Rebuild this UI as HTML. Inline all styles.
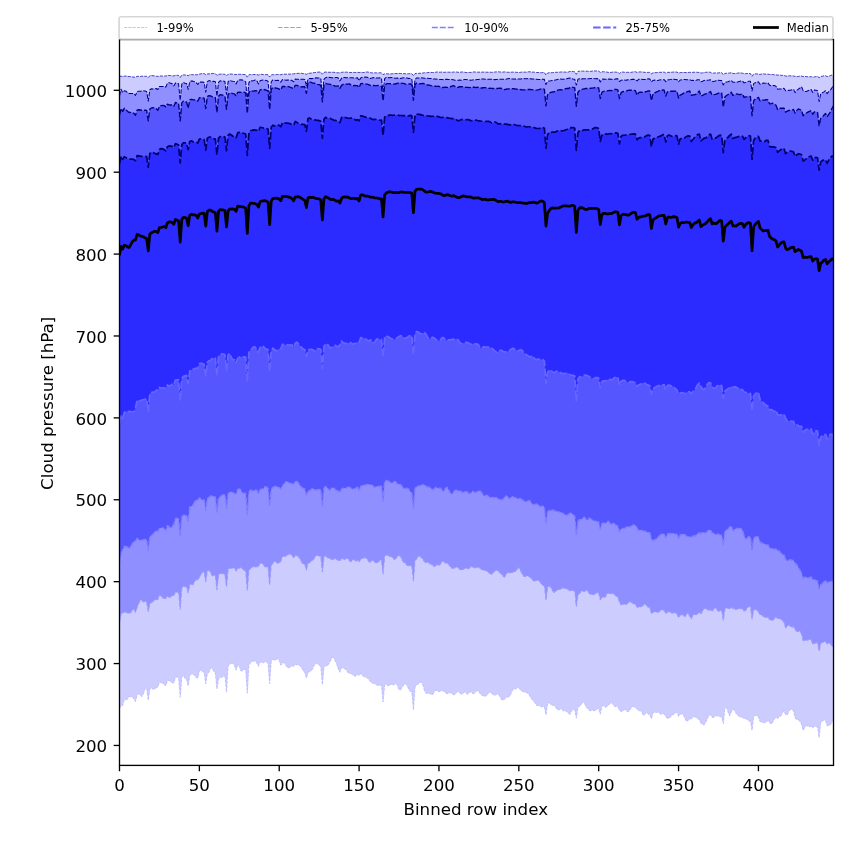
<!DOCTYPE html>
<html lang="en"><head><meta charset="utf-8"><title>Cloud pressure percentiles</title>
<style>html,body{margin:0;padding:0;background:#fff}svg{display:block;will-change:transform}text{font-family:'DejaVu Sans','Liberation Sans',sans-serif;fill:#000}</style></head><body>
<svg width="850" height="850" viewBox="0 0 850 850">
<rect width="850" height="850" fill="#fff"/>
<defs><clipPath id="ax"><rect x="119.5" y="39.5" width="714" height="725.9"/></clipPath></defs>
<g clip-path="url(#ax)">
<polygon points="119.5,76.72 121.1,76.05 122.69,76.59 124.29,76.08 125.89,76.06 127.49,76.36 129.08,76.59 130.68,76.67 132.28,76.82 133.88,77.1 135.47,77.27 137.07,76.37 138.67,76.37 140.27,76.48 141.86,76.25 143.46,76.21 145.06,76.26 146.65,76.32 148.25,77.56 149.85,75.7 151.45,75.57 153.04,75.73 154.64,75.9 156.24,76.17 157.84,76.43 159.43,75.99 161.03,76.04 162.63,75.98 164.22,75.96 165.82,76.07 167.42,75.48 169.02,75.43 170.61,75.63 172.21,75.82 173.81,75.98 175.41,75.41 177,75.29 178.6,75.36 180.2,77.49 181.8,75.13 183.39,74.91 184.99,74.95 186.59,75.03 188.18,75.75 189.78,74.67 191.38,74.59 192.98,74.73 194.57,74.86 196.17,74.75 197.77,74.62 199.37,74.12 200.96,73.85 202.56,73.51 204.16,73.58 205.76,74.81 207.35,73.99 208.95,73.86 210.55,73.66 212.14,73.59 213.74,73.52 215.34,73.6 216.94,75.42 218.53,74.35 220.13,74.16 221.73,74.06 223.33,74.19 224.92,74.26 226.52,75.89 228.12,74.18 229.71,74.01 231.31,74.06 232.91,74.32 234.51,74.4 236.1,74.63 237.7,74.24 239.3,74.31 240.9,74.31 242.49,74.37 244.09,74.5 245.69,74.58 247.29,77.1 248.88,74.79 250.48,74.53 252.08,74.71 253.67,74.56 255.27,74.44 256.87,74.61 258.47,75.04 260.06,74.51 261.66,74.35 263.26,74.57 264.86,74.73 266.45,74.58 268.05,74.65 269.65,76.93 271.24,74.9 272.84,74.67 274.44,74.83 276.04,74.64 277.63,74.49 279.23,74.58 280.83,74.74 282.43,74.22 284.02,74.14 285.62,74.2 287.22,74.15 288.82,74.11 290.41,74.09 292.01,73.88 293.61,73.89 295.2,73.5 296.8,73.45 298.4,73.36 300,73.28 301.59,73.33 303.19,73.62 304.79,73.64 306.39,74.42 307.98,73.35 309.58,73.27 311.18,73.12 312.78,72.83 314.37,72.55 315.97,72.42 317.57,72.2 319.16,72.07 320.76,72.18 322.36,74.17 323.96,72.32 325.55,72.11 327.15,72.07 328.75,72.27 330.35,72.3 331.94,72.29 333.54,72.31 335.14,72.43 336.73,72.75 338.33,72.8 339.93,72.92 341.53,72.34 343.12,72.17 344.72,72.2 346.32,72.17 347.92,72.23 349.51,72.4 351.11,72.51 352.71,72.43 354.31,72.42 355.9,72.48 357.5,72.31 359.1,72.5 360.69,72.32 362.29,72.55 363.89,72.47 365.49,72.17 367.08,72 368.68,72.2 370.28,72.59 371.88,72.9 373.47,72.96 375.07,72.79 376.67,72.91 378.27,72.89 379.86,72.78 381.46,72.91 383.06,74.58 384.65,73.93 386.25,73.75 387.85,73.91 389.45,73.95 391.04,73.89 392.64,73.75 394.24,73.58 395.84,73.55 397.43,73.51 399.03,73.35 400.63,73.52 402.22,73.67 403.82,73.59 405.42,73.78 407.02,73.9 408.61,73.73 410.21,73.68 411.81,73.72 413.41,75.68 415,73.59 416.6,73.39 418.2,73.41 419.8,73.26 421.39,73.23 422.99,72.97 424.59,72.79 426.18,72.85 427.78,72.6 429.38,72.38 430.98,72.4 432.57,72.53 434.17,72.58 435.77,72.22 437.37,71.93 438.96,72.21 440.56,72.19 442.16,72.03 443.76,72.31 445.35,72.28 446.95,72.13 448.55,72.2 450.14,72.21 451.74,72.23 453.34,72.13 454.94,71.95 456.53,72.03 458.13,72.29 459.73,72.26 461.33,72.06 462.92,71.99 464.52,72.22 466.12,72.57 467.71,72.51 469.31,72.43 470.91,72.46 472.51,72.16 474.1,71.94 475.7,72.07 477.3,72.2 478.9,72.18 480.49,72.17 482.09,72.19 483.69,72.07 485.29,72.07 486.88,72.24 488.48,72.22 490.08,72.2 491.67,72.33 493.27,72.25 494.87,72 496.47,71.88 498.06,71.81 499.66,71.92 501.26,72.13 502.86,72.08 504.45,71.9 506.05,72.02 507.65,72.29 509.24,72.28 510.84,72.22 512.44,72.15 514.04,72.09 515.63,72.22 517.23,72.4 518.83,72.51 520.43,72.33 522.02,72.04 523.62,72.08 525.22,72.18 526.82,72.09 528.41,71.84 530.01,71.8 531.61,72.08 533.2,72.16 534.8,72.2 536.4,72.5 538,72.53 539.59,72.59 541.19,72.75 542.79,72.53 544.39,72.58 545.98,75 547.58,73.03 549.18,72.78 550.78,72.76 552.37,72.66 553.97,72.46 555.57,72.32 557.16,72.25 558.76,72.26 560.36,72.05 561.96,71.96 563.55,72.04 565.15,72.08 566.75,72.25 568.35,72.01 569.94,71.49 571.54,71.42 573.14,71.63 574.73,71.72 576.33,74.33 577.93,71.44 579.53,71.17 581.12,71.15 582.72,71.13 584.32,71.2 585.92,71.14 587.51,71.22 589.11,71.49 590.71,71.35 592.31,70.99 593.9,70.92 595.5,70.99 597.1,70.92 598.69,71.02 600.29,72.52 601.89,71.87 603.49,71.71 605.08,71.9 606.68,72.05 608.28,72.35 609.88,72.55 611.47,72.33 613.07,72.02 614.67,72.03 616.27,72.22 617.86,72.28 619.46,73.52 621.06,72.16 622.65,72.03 624.25,72.26 625.85,72.35 627.45,72.29 629.04,72.31 630.64,72.42 632.24,72.15 633.84,71.75 635.43,71.79 637.03,72.45 638.63,71.98 640.22,71.91 641.82,71.93 643.42,72.21 645.02,72.34 646.61,72.38 648.21,72.39 649.81,72.39 651.41,73.79 653,72.81 654.6,72.67 656.2,72.67 657.8,72.48 659.39,72.33 660.99,72.33 662.59,72.16 664.18,72.13 665.78,73.03 667.38,72.41 668.98,72.32 670.57,72.32 672.17,72.19 673.77,72.04 675.37,72.01 676.96,72.08 678.56,73.01 680.16,72.61 681.76,72.51 683.35,72.51 684.95,72.44 686.55,72.59 688.14,72.54 689.74,72.27 691.34,72.49 692.94,72.3 694.53,72.24 696.13,72.14 697.73,72.38 699.33,72.42 700.92,72.97 702.52,72.88 704.12,72.62 705.71,72.27 707.31,72.18 708.91,72.13 710.51,72.35 712.1,73.3 713.7,73.09 715.3,72.91 716.9,73.02 718.49,72.94 720.09,72.66 721.69,72.64 723.29,74.73 724.88,73.45 726.48,73.25 728.08,73.23 729.67,73.01 731.27,72.73 732.87,73.45 734.47,73.58 736.06,73.43 737.66,73.16 739.26,72.87 740.86,73.02 742.45,73.2 744.05,73.6 745.65,73.64 747.24,73.53 748.84,73.5 750.44,73.62 752.04,76.3 753.63,74.14 755.23,73.86 756.83,73.88 758.43,74.04 760.02,74.56 761.62,74 763.22,73.8 764.82,74.1 766.41,74.19 768.01,74.13 769.61,74.52 771.2,74.46 772.8,74.57 774.4,74.81 776,74.87 777.59,75.1 779.19,75.02 780.79,75.28 782.39,75.37 783.98,75.38 785.58,76.1 787.18,76.04 788.78,75.85 790.37,75.8 791.97,75.97 793.57,75.96 795.16,76.45 796.76,76.59 798.36,76.4 799.96,76.14 801.55,76.09 803.15,76.54 804.75,76.45 806.35,76.6 807.94,76.8 809.54,76.81 811.14,76.64 812.73,77.13 814.33,76.98 815.93,76.53 817.53,76.55 819.12,77.73 820.72,76.44 822.32,76.32 823.92,75.78 825.51,75.75 827.11,76.51 828.71,76.33 830.31,75.6 831.9,75.05 833.5,75.2 833.5,720.87 831.9,722.24 830.31,725.01 828.71,725.45 827.11,725.89 825.51,720.34 823.92,719.94 822.32,721.27 820.72,722.35 819.12,737.63 817.53,726.49 815.93,726.83 814.33,726.24 812.73,728.05 811.14,726.3 809.54,726.79 807.94,726.16 806.35,725.59 804.75,727.26 803.15,730.38 801.55,724.49 799.96,721.12 798.36,720.09 796.76,719.61 795.16,718.16 793.57,711.23 791.97,709.23 790.37,709.38 788.78,711.56 787.18,715.05 785.58,714.42 783.98,710.73 782.39,712.92 780.79,716.1 779.19,717.05 777.59,718.41 776,717.53 774.4,718.89 772.8,722.06 771.2,724.21 769.61,722.41 768.01,720.23 766.41,722 764.82,723.08 763.22,722.33 761.62,722.28 760.02,721.58 758.43,716.94 756.83,715.58 755.23,715.56 753.63,716.48 752.04,730.32 750.44,721.22 748.84,721.08 747.24,719.45 745.65,718.68 744.05,718.69 742.45,717.32 740.86,717.24 739.26,716.51 737.66,715.26 736.06,713.28 734.47,710.21 732.87,709.22 731.27,711.98 729.67,715.98 728.08,711.98 726.48,707.62 724.88,708.3 723.29,723.66 721.69,716.77 720.09,716.83 718.49,716.09 716.9,715.69 715.3,716.12 713.7,717.52 712.1,717.4 710.51,714.47 708.91,715.5 707.31,718.81 705.71,722.25 704.12,725.07 702.52,724.33 700.92,723.25 699.33,719.63 697.73,718.64 696.13,717.61 694.53,716.48 692.94,717.29 691.34,719.04 689.74,718.93 688.14,720.37 686.55,721.55 684.95,718.13 683.35,715.06 681.76,713.82 680.16,714.15 678.56,716.43 676.96,711.81 675.37,713.13 673.77,714.35 672.17,714.74 670.57,717.04 668.98,718.14 667.38,718.43 665.78,716.46 664.18,713.96 662.59,713.59 660.99,714.49 659.39,713.19 657.8,712.07 656.2,712.57 654.6,712.32 653,712.78 651.41,718.76 649.81,714.81 648.21,714.14 646.61,711.86 645.02,714.35 643.42,715.41 641.82,712.35 640.22,710.59 638.63,710.82 637.03,709.06 635.43,707.46 633.84,706.75 632.24,706.51 630.64,708.74 629.04,711.25 627.45,711.84 625.85,709.95 624.25,709.44 622.65,711.04 621.06,711.47 619.46,710.43 617.86,706.48 616.27,706.14 614.67,706.65 613.07,704.45 611.47,702.53 609.88,703.93 608.28,705.22 606.68,706.85 605.08,707.27 603.49,705.61 601.89,706.14 600.29,714.25 598.69,708.29 597.1,708.97 595.5,710.55 593.9,710.71 592.31,709.88 590.71,710.7 589.11,710.47 587.51,708.56 585.92,706.49 584.32,702.85 582.72,702.28 581.12,704.8 579.53,706.37 577.93,707.26 576.33,718.23 574.73,709.72 573.14,709.32 571.54,711.04 569.94,714.55 568.35,713.25 566.75,711.23 565.15,711.12 563.55,711.09 561.96,709.57 560.36,708.82 558.76,709.92 557.16,709.55 555.57,707.2 553.97,705.21 552.37,705.19 550.78,704.68 549.18,702.65 547.58,703.47 545.98,714.88 544.39,706.71 542.79,706.73 541.19,706.8 539.59,705.82 538,705.5 536.4,705.15 534.8,702.46 533.2,700.64 531.61,699.14 530.01,696.16 528.41,693.68 526.82,692.75 525.22,692.23 523.62,691.69 522.02,691.31 520.43,689.93 518.83,687.94 517.23,687.87 515.63,688.95 514.04,688.98 512.44,690.37 510.84,694.13 509.24,696.87 507.65,697.11 506.05,697.22 504.45,699.35 502.86,700.25 501.26,699.36 499.66,696.11 498.06,693.64 496.47,694.36 494.87,695.41 493.27,694.7 491.67,693.57 490.08,692 488.48,693.05 486.88,695.34 485.29,696.41 483.69,696.01 482.09,695.32 480.49,694.14 478.9,691.68 477.3,690.42 475.7,691.83 474.1,693.68 472.51,693.56 470.91,691.71 469.31,692.58 467.71,694.38 466.12,693.06 464.52,692.09 462.92,693.34 461.33,694.38 459.73,693.02 458.13,691.35 456.53,692.59 454.94,694.51 453.34,694.75 451.74,693.56 450.14,692.4 448.55,693.29 446.95,693.79 445.35,692.67 443.76,691.01 442.16,690.68 440.56,691.03 438.96,691.68 437.37,691.1 435.77,689.92 434.17,692.03 432.57,694.92 430.98,694.02 429.38,693.49 427.78,693.26 426.18,693.49 424.59,691.12 422.99,685.16 421.39,681.74 419.8,682.88 418.2,684.04 416.6,685.09 415,686.93 413.41,709.85 411.81,691.54 410.21,691.45 408.61,689 407.02,685.62 405.42,683.21 403.82,684.93 402.22,687.11 400.63,689.75 399.03,689.81 397.43,685.52 395.84,682.89 394.24,684.76 392.64,684.88 391.04,683.94 389.45,685.49 387.85,685.95 386.25,683.6 384.65,685.26 383.06,701.92 381.46,684.92 379.86,685.36 378.27,685.62 376.67,685.06 375.07,684.05 373.47,683.16 371.88,682.97 370.28,681.5 368.68,679.43 367.08,677.83 365.49,677.02 363.89,676.85 362.29,675.52 360.69,673.24 359.1,675.67 357.5,674.12 355.9,676.21 354.31,675.91 352.71,674.78 351.11,673.54 349.51,673.45 347.92,672.62 346.32,670.07 344.72,668.86 343.12,668.06 341.53,667.56 339.93,672.26 338.33,668.93 336.73,664.19 335.14,660.71 333.54,657.51 331.94,657.7 330.35,661.05 328.75,663.93 327.15,666 325.55,665.62 323.96,667.55 322.36,684.6 320.76,666.26 319.16,665.28 317.57,663.98 315.97,663 314.37,665.24 312.78,668.6 311.18,670.84 309.58,671.68 307.98,672.41 306.39,678.04 304.79,672.67 303.19,670.68 301.59,667.73 300,665.69 298.4,664.74 296.8,664.96 295.2,664.17 293.61,666.44 292.01,665.7 290.41,666.96 288.82,667.76 287.22,667.5 285.62,664.68 284.02,662.5 282.43,662.9 280.83,665.21 279.23,660.17 277.63,658.58 276.04,659.65 274.44,660.22 272.84,659.17 271.24,661.33 269.65,683.57 268.05,663.19 266.45,661.95 264.86,661.71 263.26,662.85 261.66,662.52 260.06,661.73 258.47,666.37 256.87,663.26 255.27,661.04 253.67,660.92 252.08,661.55 250.48,662.72 248.88,665.11 247.29,693.24 245.69,669.63 244.09,669.32 242.49,670.95 240.9,670.98 239.3,666.26 237.7,664.82 236.1,670.13 234.51,665.65 232.91,663.61 231.31,663.54 229.71,664.18 228.12,665.74 226.52,692.23 224.92,675.88 223.33,676.59 221.73,677.3 220.13,677.27 218.53,679.01 216.94,688.99 215.34,672.71 213.74,671.51 212.14,667.8 210.55,668.24 208.95,672.39 207.35,673.59 205.76,683.72 204.16,672.45 202.56,671.76 200.96,670.01 199.37,671.22 197.77,678.06 196.17,677.78 194.57,675.47 192.98,674.06 191.38,674.3 189.78,675.03 188.18,685.79 186.59,679.06 184.99,678.43 183.39,675.3 181.8,677.32 180.2,697.35 178.6,677.46 177,677.11 175.41,677.21 173.81,682.99 172.21,682.85 170.61,681.64 169.02,680.36 167.42,680.81 165.82,685.77 164.22,684.55 162.63,683.53 161.03,682.52 159.43,682.28 157.84,687.05 156.24,687.76 154.64,689.1 153.04,689.3 151.45,687.95 149.85,689.15 148.25,700.26 146.65,688.16 145.06,688.3 143.46,693.62 141.86,696.77 140.27,695.14 138.67,693.8 137.07,695.06 135.47,701.47 133.88,698.94 132.28,696.7 130.68,696.96 129.08,696.37 127.49,699.24 125.89,699.7 124.29,699.61 122.69,705.63 121.1,705.48 119.5,708.76" fill="#ccccff"/>
<polygon points="119.5,95.99 121.1,89.2 122.69,92.64 124.29,90.77 125.89,91.29 127.49,92.4 129.08,93.51 130.68,93.54 132.28,93.44 133.88,93.4 135.47,95.39 137.07,91.67 138.67,91.17 140.27,91.23 141.86,91.1 143.46,90.81 145.06,91.1 146.65,91.47 148.25,101.24 149.85,89.76 151.45,88.74 153.04,88.96 154.64,88.82 156.24,88.55 157.84,89.54 159.43,86.55 161.03,86.48 162.63,86.53 164.22,86.49 165.82,87.1 167.42,83.17 169.02,82.63 170.61,83.2 172.21,83.84 173.81,85.91 175.41,83.06 177,83.22 178.6,83.85 180.2,100.38 181.8,84.02 183.39,82.31 184.99,83.2 186.59,83.55 188.18,89.44 189.78,81.53 191.38,80.9 192.98,81.13 194.57,81.78 196.17,82.67 197.77,84.53 199.37,81.98 200.96,82.13 202.56,82.13 204.16,82.44 205.76,92.27 207.35,81.61 208.95,80.6 210.55,81.09 212.14,81.38 213.74,81.36 215.34,81.86 216.94,96.18 218.53,82.35 220.13,80.87 221.73,80.95 223.33,81.1 224.92,81.57 226.52,94.36 228.12,81.64 229.71,80.31 231.31,80.91 232.91,81.28 234.51,81.57 236.1,84 237.7,80.38 239.3,79.9 240.9,79.7 242.49,80.07 244.09,80.86 245.69,81.6 247.29,101.14 248.88,82.56 250.48,80.54 252.08,80.92 253.67,80.58 255.27,80.08 256.87,80.77 258.47,84.04 260.06,80.85 261.66,80.31 263.26,80.05 264.86,80.27 266.45,80.6 268.05,81.14 269.65,98.93 271.24,81.76 272.84,79.92 274.44,80.22 276.04,80.45 277.63,80.28 279.23,80.43 280.83,82.23 282.43,79.56 284.02,79.77 285.62,80.16 287.22,80.13 288.82,80.09 290.41,80.18 292.01,80.38 293.61,81.77 295.2,79.04 296.8,79.2 298.4,79.34 300,79.43 301.59,79.24 303.19,79.33 304.79,79.55 306.39,85.57 307.98,79.01 309.58,78.39 311.18,78.62 312.78,78.49 314.37,78.04 315.97,77.84 317.57,78.11 319.16,78 320.76,78.37 322.36,94.38 323.96,79.4 325.55,77.76 327.15,77.33 328.75,77.37 330.35,77.57 331.94,77.83 333.54,77.84 335.14,77.49 336.73,77.55 338.33,78.08 339.93,80.92 341.53,78.24 343.12,77.41 344.72,77.44 346.32,77.75 347.92,77.67 349.51,77.7 351.11,77.69 352.71,77.75 354.31,78.04 355.9,77.89 357.5,77.76 359.1,80.84 360.69,77.95 362.29,77.33 363.89,77.24 365.49,77.12 367.08,77.26 368.68,77.99 370.28,78.46 371.88,78.09 373.47,77.6 375.07,77.81 376.67,78.01 378.27,77.91 379.86,77.86 381.46,78.2 383.06,91.9 384.65,78.68 386.25,77.28 387.85,77.51 389.45,77.75 391.04,77.61 392.64,77.53 394.24,77.96 395.84,78.3 397.43,78.1 399.03,78.27 400.63,78.44 402.22,77.95 403.82,77.77 405.42,77.86 407.02,78.04 408.61,78.38 410.21,78.51 411.81,78.96 413.41,94.11 415,79.47 416.6,77.91 418.2,78 419.8,78 421.39,77.78 422.99,77.98 424.59,78.25 426.18,78.11 427.78,78.34 429.38,78.54 430.98,78.5 432.57,78.81 434.17,79.05 435.77,79.01 437.37,79.32 438.96,79.53 440.56,79.43 442.16,79.56 443.76,79.67 445.35,79.37 446.95,79.23 448.55,79.46 450.14,79.49 451.74,79.54 453.34,79.83 454.94,80.21 456.53,80.41 458.13,80.19 459.73,80.07 461.33,80.18 462.92,79.93 464.52,79.54 466.12,79.46 467.71,79.64 469.31,80.06 470.91,80.29 472.51,79.93 474.1,79.66 475.7,79.69 477.3,79.59 478.9,79.46 480.49,79.19 482.09,78.92 483.69,79.03 485.29,79.26 486.88,79.36 488.48,79.29 490.08,79.18 491.67,79.24 493.27,79.37 494.87,79.63 496.47,79.61 498.06,79.28 499.66,79.19 501.26,79.25 502.86,79.19 504.45,79.17 506.05,79.18 507.65,78.74 509.24,78.42 510.84,78.7 512.44,78.96 514.04,79.1 515.63,79.13 517.23,79.02 518.83,78.99 520.43,78.92 522.02,78.7 523.62,78.55 525.22,78.7 526.82,78.69 528.41,78.5 530.01,78.65 531.61,78.88 533.2,78.98 534.8,79.05 536.4,79.17 538,79.4 539.59,79.54 541.19,79.34 542.79,79.2 544.39,79.37 545.98,84.63 547.58,81.49 549.18,80.95 550.78,80.78 552.37,80.5 553.97,80.34 555.57,79.95 557.16,79.58 558.76,79.19 560.36,78.96 561.96,79.19 563.55,79.15 565.15,78.89 566.75,78.7 568.35,78.29 569.94,78.04 571.54,78.57 573.14,79.1 574.73,79.21 576.33,85.04 577.93,79.35 579.53,78.76 581.12,78.86 582.72,78.86 584.32,78.77 585.92,78.66 587.51,78.78 589.11,78.68 590.71,78.39 592.31,78.41 593.9,78.6 595.5,78.66 597.1,78.56 598.69,78.78 600.29,82.08 601.89,79.4 603.49,79.05 605.08,79.28 606.68,79.3 608.28,79.12 609.88,78.94 611.47,79.19 613.07,79.56 614.67,79.28 616.27,78.71 617.86,78.87 619.46,81.57 621.06,80.36 622.65,80.08 624.25,79.92 625.85,80.16 627.45,79.87 629.04,79.7 630.64,79.72 632.24,79.34 633.84,79.38 635.43,79.5 637.03,80.92 638.63,79.35 640.22,79.2 641.82,79.33 643.42,79.56 645.02,79.5 646.61,79.09 648.21,78.78 649.81,78.91 651.41,81.86 653,80.39 654.6,80.09 656.2,80.5 657.8,80.4 659.39,80.03 660.99,79.83 662.59,79.71 664.18,79.64 665.78,81.62 667.38,79.91 668.98,79.72 670.57,79.51 672.17,79.09 673.77,79.15 675.37,79.56 676.96,79.62 678.56,81.76 680.16,80.07 681.76,79.85 683.35,79.48 684.95,79.51 686.55,79.72 688.14,79.74 689.74,79.69 691.34,80.4 692.94,80.34 694.53,80.64 696.13,80.34 697.73,79.84 699.33,79.79 700.92,81.65 702.52,81.2 704.12,80.46 705.71,80.25 707.31,80.27 708.91,80.08 710.51,79.76 712.1,81.33 713.7,81.52 715.3,80.99 716.9,80.27 718.49,80.25 720.09,80.47 721.69,80.6 723.29,85.02 724.88,82.51 726.48,82.05 728.08,81.66 729.67,80.92 731.27,80.56 732.87,82.14 734.47,82.15 736.06,82.08 737.66,82.02 739.26,81.51 740.86,81.05 742.45,80.92 744.05,82.87 745.65,82.49 747.24,81.71 748.84,81.2 750.44,81.36 752.04,91 753.63,83.64 755.23,82.66 756.83,82.03 758.43,81.87 760.02,84.24 761.62,83.56 763.22,83.06 764.82,83.18 766.41,83.04 768.01,82.82 769.61,85.36 771.2,85.68 772.8,85.4 774.4,85.58 776,86.37 777.59,89.15 779.19,89.02 780.79,88.91 782.39,88.7 783.98,88.29 785.58,90.78 787.18,90.64 788.78,90.38 790.37,90.24 791.97,89.75 793.57,89.5 795.16,92.62 796.76,90.32 798.36,89.08 799.96,87.97 801.55,86.78 803.15,90.64 804.75,91.61 806.35,91.43 807.94,90.77 809.54,90.11 811.14,89.45 812.73,92.41 814.33,90.04 815.93,90.14 817.53,90.65 819.12,101.54 820.72,93.94 822.32,92.8 823.92,91.82 825.51,90.69 827.11,93.66 828.71,91.69 830.31,90.32 831.9,87.85 833.5,85.18 833.5,647.95 831.9,645.68 830.31,643.59 828.71,642.88 827.11,643.95 825.51,641.43 823.92,642.06 822.32,642.5 820.72,643.34 819.12,651.21 817.53,642.48 815.93,642.81 814.33,643.77 812.73,643.87 811.14,639.77 809.54,639.29 807.94,639.95 806.35,640.32 804.75,640.42 803.15,640.75 801.55,633.92 799.96,631.07 798.36,631.41 796.76,631.3 795.16,629.73 793.57,626.08 791.97,627.38 790.37,626.2 788.78,624.59 787.18,626.41 785.58,627.76 783.98,622.41 782.39,620.28 780.79,619.51 779.19,618.36 777.59,618.37 776,616.98 774.4,618.64 772.8,620.21 771.2,620.29 769.61,619.64 768.01,617.05 766.41,617.66 764.82,617.28 763.22,616.22 761.62,615.21 760.02,614.58 758.43,611.7 756.83,610.6 755.23,608.9 753.63,610.16 752.04,619.03 750.44,606.59 748.84,606.43 747.24,608.11 745.65,610.48 744.05,611.03 742.45,608.99 740.86,608.67 739.26,608.16 737.66,609.27 736.06,609.54 734.47,608.67 732.87,608.75 731.27,607.46 729.67,608.64 728.08,608.34 726.48,608.08 724.88,609.01 723.29,620.24 721.69,610.51 720.09,610.93 718.49,611.35 716.9,609.46 715.3,607.71 713.7,608.81 712.1,611.54 710.51,609.76 708.91,610.07 707.31,609.93 705.71,608.25 704.12,608.4 702.52,611.23 700.92,613.71 699.33,612.27 697.73,613.78 696.13,614.64 694.53,614.39 692.94,615.22 691.34,618.84 689.74,616.17 688.14,612.93 686.55,614.26 684.95,616.59 683.35,615.47 681.76,614.64 680.16,615.09 678.56,617.78 676.96,613.77 675.37,613.28 673.77,612.56 672.17,613.34 670.57,612.49 668.98,611.63 667.38,612.02 665.78,613.76 664.18,610.2 662.59,609.84 660.99,610.03 659.39,611.57 657.8,612.26 656.2,612.28 654.6,611.62 653,612.25 651.41,613.74 649.81,607.59 648.21,607.44 646.61,605.29 645.02,604.33 643.42,605.06 641.82,606.38 640.22,606.82 638.63,607.13 637.03,607.15 635.43,604.21 633.84,604 632.24,602.8 630.64,601.83 629.04,602 627.45,603.61 625.85,604.45 624.25,604.17 622.65,604.3 621.06,604.89 619.46,602.2 617.86,597.14 616.27,596.35 614.67,594.67 613.07,593.59 611.47,593.79 609.88,593.39 608.28,593.11 606.68,594.37 605.08,597.17 603.49,596.95 601.89,597.67 600.29,599.78 598.69,593.25 597.1,592.58 595.5,593.65 593.9,594.67 592.31,594.58 590.71,594.6 589.11,593.23 587.51,590.8 585.92,590.28 584.32,591.62 582.72,590.99 581.12,591.34 579.53,593.34 577.93,594.96 576.33,606.35 574.73,591.19 573.14,590.15 571.54,590.58 569.94,590.89 568.35,589.56 566.75,588.68 565.15,588.85 563.55,587.73 561.96,588.05 560.36,589.74 558.76,589.29 557.16,589.65 555.57,591.62 553.97,592.44 552.37,590.41 550.78,587.37 549.18,585.85 547.58,587.33 545.98,600.14 544.39,585.74 542.79,585.32 541.19,583.63 539.59,581.02 538,580.33 536.4,580.6 534.8,581.02 533.2,580.77 531.61,578.74 530.01,577.12 528.41,576.24 526.82,575.79 525.22,576.49 523.62,576.2 522.02,573.78 520.43,570.25 518.83,567.52 517.23,569.03 515.63,571.53 514.04,571.6 512.44,572.24 510.84,573.33 509.24,572.56 507.65,572.29 506.05,574.54 504.45,577.16 502.86,576 501.26,573.86 499.66,572.32 498.06,570.9 496.47,570.06 494.87,570.59 493.27,572.93 491.67,574.23 490.08,573.62 488.48,572.72 486.88,571.01 485.29,569.99 483.69,570.24 482.09,569.92 480.49,568.6 478.9,567.47 477.3,567.54 475.7,567.74 474.1,567.78 472.51,566.89 470.91,566.59 469.31,568.24 467.71,569 466.12,568.09 464.52,568.58 462.92,569.57 461.33,569.93 459.73,569.38 458.13,567.49 456.53,567.13 454.94,567.69 453.34,568.33 451.74,568.35 450.14,566.47 448.55,564.04 446.95,563.28 445.35,563.22 443.76,561.32 442.16,561.32 440.56,564.08 438.96,565.26 437.37,564.76 435.77,565.61 434.17,566.53 432.57,565.2 430.98,564.35 429.38,563.36 427.78,562.35 426.18,562.68 424.59,561.86 422.99,559.54 421.39,557.6 419.8,556.08 418.2,556.61 416.6,558.91 415,560.43 413.41,581.07 411.81,565.63 410.21,565.87 408.61,565.85 407.02,565.34 405.42,563.19 403.82,562.39 402.22,560.24 400.63,556.56 399.03,555.32 397.43,556.55 395.84,558.66 394.24,559.64 392.64,557.71 391.04,556.3 389.45,556.82 387.85,555.56 386.25,554.85 384.65,556.22 383.06,574 381.46,559.94 379.86,560.32 378.27,561.94 376.67,563.08 375.07,562.45 373.47,560.62 371.88,560.62 370.28,562.22 368.68,561.52 367.08,559.09 365.49,557.78 363.89,557.77 362.29,558.66 360.69,559.22 359.1,561.71 357.5,560.34 355.9,561.19 354.31,559.74 352.71,559.73 351.11,561.54 349.51,560.92 347.92,558.39 346.32,558.2 344.72,559.63 343.12,559.34 341.53,558.05 339.93,560.95 338.33,560.31 336.73,559.53 335.14,558.4 333.54,559.66 331.94,559.49 330.35,558.53 328.75,558.53 327.15,557.24 325.55,555.64 323.96,557.23 322.36,571.93 320.76,556.41 319.16,555.97 317.57,555.29 315.97,555.72 314.37,558.07 312.78,560.12 311.18,561.24 309.58,562.57 307.98,563.18 306.39,570 304.79,564.26 303.19,563.92 301.59,561.87 300,559.09 298.4,556.52 296.8,555.66 295.2,555.66 293.61,557.66 292.01,555.66 290.41,554.09 288.82,553.98 287.22,555.41 285.62,556.24 284.02,556.15 282.43,556.51 280.83,561.31 279.23,562.98 277.63,563.34 276.04,561.66 274.44,561.56 272.84,563.29 271.24,565.08 269.65,584.83 268.05,567 266.45,566.97 264.86,566.8 263.26,564.49 261.66,563.16 260.06,563.12 258.47,566.7 256.87,566.5 255.27,567.1 253.67,566.68 252.08,567.29 250.48,568.43 248.88,570.41 247.29,590.13 245.69,570.92 244.09,570.37 242.49,568.96 240.9,567.29 239.3,568.17 237.7,568.53 236.1,571 234.51,568.25 232.91,568.01 231.31,568.18 229.71,568.13 228.12,569.42 226.52,586.71 224.92,574.65 223.33,573.79 221.73,573.41 220.13,573.61 218.53,575.05 216.94,589.92 215.34,575.4 213.74,575.48 212.14,575.65 210.55,572.38 208.95,570.02 207.35,571.01 205.76,581.65 204.16,572.31 202.56,571.77 200.96,574.43 199.37,577.26 197.77,580.23 196.17,579.26 194.57,581.7 192.98,584.69 191.38,584.01 189.78,584.62 188.18,592.89 186.59,586.75 184.99,586.81 183.39,586.46 181.8,588.13 180.2,609.22 178.6,592.16 177,592.5 175.41,592.33 173.81,595.15 172.21,595.81 170.61,596.96 169.02,597.25 167.42,596.27 165.82,598.58 164.22,598.27 162.63,598.05 161.03,595.91 159.43,594.84 157.84,599.56 156.24,599.34 154.64,600.36 153.04,601.36 151.45,602.49 149.85,603.48 148.25,611.4 146.65,601.88 145.06,601.52 143.46,602.08 141.86,600.19 140.27,600.25 138.67,603.55 137.07,607.56 135.47,612.34 133.88,609.12 132.28,610.18 130.68,612.6 129.08,613.24 127.49,613.18 125.89,611.81 124.29,612 122.69,613.37 121.1,613.36 119.5,622.68" fill="#8f8fff"/>
<polygon points="119.5,114.98 121.1,108.41 122.69,111.31 124.29,108.32 125.89,109.48 127.49,111.22 129.08,112.51 130.68,112.38 132.28,112.35 133.88,113.34 135.47,115.28 137.07,110.17 138.67,109.75 140.27,110 141.86,110.26 143.46,110.49 145.06,110.18 146.65,110.47 148.25,120.84 149.85,109 151.45,107.94 153.04,107.75 154.64,107.85 156.24,108.79 157.84,110.36 159.43,106.43 161.03,105.6 162.63,105.36 164.22,105.63 165.82,106.88 167.42,104.18 169.02,104.88 170.61,105.03 172.21,105.05 173.81,106.34 175.41,102.48 177,102.81 178.6,103.54 180.2,120.85 181.8,102.88 183.39,101.08 184.99,101.73 186.59,101.97 188.18,108.29 189.78,99.95 191.38,99.29 192.98,99.76 194.57,99.86 196.17,99.9 197.77,101.16 199.37,97.7 200.96,97.61 202.56,97.83 204.16,98.22 205.76,108.49 207.35,96.64 208.95,95.58 210.55,95.91 212.14,96.64 213.74,96.95 215.34,97.52 216.94,112.53 218.53,96.27 220.13,94.71 221.73,94.82 223.33,95.47 224.92,96.06 226.52,109.41 228.12,94.42 229.71,93.02 231.31,93.12 232.91,93.63 234.51,93.94 236.1,96.08 237.7,92.34 239.3,92.2 240.9,92.36 242.49,92.33 244.09,92.19 245.69,93.01 247.29,113.51 248.88,92.64 250.48,90.51 252.08,90.98 253.67,91.17 255.27,90.76 256.87,90.94 258.47,93.49 260.06,89.9 261.66,89.51 263.26,89.28 264.86,89.76 266.45,90.27 268.05,90.83 269.65,109.54 271.24,89.38 272.84,87.46 274.44,87.79 276.04,88.03 277.63,88.44 279.23,89.03 280.83,90.02 282.43,86.37 284.02,86.5 285.62,86.75 287.22,86.49 288.82,86.67 290.41,87.41 292.01,87.92 293.61,88.82 295.2,85.33 296.8,85.41 298.4,85.84 300,86.53 301.59,86.97 303.19,86.76 304.79,86.79 306.39,93.32 307.98,82.47 309.58,81.81 311.18,82.45 312.78,83.05 314.37,83.09 315.97,83.62 317.57,84.44 319.16,84.7 320.76,85.25 322.36,101.92 323.96,85.07 325.55,83.35 327.15,83.8 328.75,84.06 330.35,84.38 331.94,84.72 333.54,85.36 335.14,86.14 336.73,86.13 338.33,85.98 339.93,88.34 341.53,85.32 343.12,84.33 344.72,83.89 346.32,84.12 347.92,84.1 349.51,83.93 351.11,84.98 352.71,85.81 354.31,85.54 355.9,85.7 357.5,85.61 359.1,87.62 360.69,83.67 362.29,83.52 363.89,83.63 365.49,83.92 367.08,84.1 368.68,84.61 370.28,85.45 371.88,85.69 373.47,85.43 375.07,85.6 376.67,85.67 378.27,85.51 379.86,86.02 381.46,86.34 383.06,100.78 384.65,85.38 386.25,83.9 387.85,83.58 389.45,83.6 391.04,83.75 392.64,84.14 394.24,84.19 395.84,83.74 397.43,83.31 399.03,82.86 400.63,83.04 402.22,83.42 403.82,83.42 405.42,84.04 407.02,84.45 408.61,83.97 410.21,83.83 411.81,84.29 413.41,100.23 415,84.7 416.6,83.06 418.2,83.63 419.8,83.89 421.39,83.58 422.99,83.31 424.59,83.83 426.18,84.68 427.78,85.04 429.38,85.17 430.98,85.65 432.57,85.95 434.17,85.98 435.77,86.28 437.37,86.31 438.96,86.28 440.56,86.95 442.16,87.5 443.76,87.37 445.35,87.23 446.95,87.41 448.55,87.42 450.14,86.91 451.74,86.06 453.34,85.65 454.94,86.36 456.53,87.4 458.13,87.25 459.73,86.75 461.33,86.78 462.92,86.7 464.52,86.98 466.12,87.37 467.71,87.37 469.31,87.59 470.91,87.42 472.51,86.94 474.1,87.21 475.7,87.56 477.3,87.27 478.9,87.36 480.49,88.01 482.09,88.01 483.69,87.58 485.29,87.55 486.88,88.05 488.48,88.38 490.08,88.28 491.67,88.38 493.27,88.47 494.87,88.39 496.47,88.47 498.06,88.44 499.66,88.13 501.26,88.23 502.86,89.03 504.45,89.55 506.05,89.24 507.65,88.87 509.24,88.92 510.84,88.82 512.44,88.6 514.04,88.71 515.63,89.08 517.23,89.24 518.83,89.25 520.43,89.52 522.02,89.72 523.62,89.88 525.22,89.88 526.82,89.58 528.41,89.47 530.01,89.52 531.61,89.61 533.2,89.92 534.8,90.16 536.4,90.11 538,89.95 539.59,89.41 541.19,88.75 542.79,88.56 544.39,89.3 545.98,105.85 547.58,94.74 549.18,93.01 550.78,92.39 552.37,92.01 553.97,91.87 555.57,91.3 557.16,90.45 558.76,89.9 560.36,89.66 561.96,89.8 563.55,89.81 565.15,88.84 566.75,88.43 568.35,88.54 569.94,87.7 571.54,87.25 573.14,87.33 574.73,87.91 576.33,106.23 577.93,92.26 579.53,90.37 581.12,89.71 582.72,89.18 584.32,88.81 585.92,88.51 587.51,88.46 589.11,88.43 590.71,88.29 592.31,88.16 593.9,87.8 595.5,87.46 597.1,87.46 598.69,87.96 600.29,98.66 601.89,92.42 603.49,91.3 605.08,90.97 606.68,90.9 608.28,90.59 609.88,90.47 611.47,90.69 613.07,90.12 614.67,89.3 616.27,89.46 617.86,89.91 619.46,98.56 621.06,92.61 622.65,91.7 624.25,91.43 625.85,91.29 627.45,90.69 629.04,90.22 630.64,90.18 632.24,90.23 633.84,90.37 635.43,90.6 637.03,95.27 638.63,92.58 640.22,92.09 641.82,92.25 643.42,92.19 645.02,91.75 646.61,91.56 648.21,90.94 649.81,91.04 651.41,100.74 653,93.76 654.6,92.78 656.2,92.02 657.8,91.46 659.39,90.7 660.99,89.95 662.59,89.98 664.18,90.27 665.78,96.07 667.38,91.87 668.98,91.26 670.57,91.28 672.17,91.23 673.77,91.29 675.37,91.1 676.96,91.26 678.56,98.1 680.16,95.11 681.76,94.41 683.35,93.35 684.95,92.3 686.55,91.95 688.14,91.51 689.74,90.92 691.34,95.27 692.94,94.8 694.53,94.77 696.13,94.23 697.73,92.51 699.33,90.9 700.92,96.07 702.52,95.41 704.12,94.48 705.71,93.78 707.31,93.3 708.91,92.49 710.51,91.44 712.1,95.12 713.7,94.58 715.3,94.41 716.9,93.78 718.49,93.2 720.09,92.65 721.69,93.07 723.29,107.14 724.88,96.98 726.48,95.53 728.08,94.51 729.67,93.44 731.27,92.26 732.87,95.38 734.47,94.57 736.06,93.94 737.66,94.16 739.26,94.72 740.86,94.32 742.45,93.95 744.05,97.36 745.65,96.87 747.24,96.63 748.84,96.19 750.44,96.66 752.04,115.79 753.63,100.89 755.23,98.93 756.83,98.15 758.43,97.38 760.02,100.81 761.62,99.87 763.22,100.07 764.82,99.98 766.41,99.64 768.01,99.88 769.61,103.89 771.2,103.66 772.8,103.26 774.4,103.95 776,105.28 777.59,109.51 779.19,108.4 780.79,108.13 782.39,108.21 783.98,108.08 785.58,112.19 787.18,111.08 788.78,110.5 790.37,110.32 791.97,110.06 793.57,109.47 795.16,113.18 796.76,110.67 798.36,108.88 799.96,109.52 801.55,110.33 803.15,115.76 804.75,113.9 806.35,113.02 807.94,112.09 809.54,111.31 811.14,110.56 812.73,114.33 814.33,111.81 815.93,111.87 817.53,112.41 819.12,125.67 820.72,118.32 822.32,116.94 823.92,115.2 825.51,113.54 827.11,116.91 828.71,114.33 830.31,112.16 831.9,108.52 833.5,105.74 833.5,582.7 831.9,580.99 830.31,581.42 828.71,582.03 827.11,582.94 825.51,580.36 823.92,581.56 822.32,583.66 820.72,584.5 819.12,588.85 817.53,580.81 815.93,580.45 814.33,579.61 812.73,579.41 811.14,576.72 809.54,577.62 807.94,577.94 806.35,577.13 804.75,577.04 803.15,578.61 801.55,572.92 799.96,570.17 798.36,567.57 796.76,564.53 795.16,563.41 793.57,560.38 791.97,560.31 790.37,559.58 788.78,560.28 787.18,560.74 785.58,559.31 783.98,554.66 782.39,554.36 780.79,553.09 779.19,551.01 777.59,550.5 776,548.8 774.4,549.42 772.8,548.81 771.2,548.62 769.61,547.72 768.01,544.75 766.41,545.2 764.82,544.07 763.22,543.23 761.62,543.29 760.02,542.07 758.43,537.2 756.83,536.68 755.23,536.96 753.63,538.31 752.04,549.93 750.44,537.09 748.84,536.49 747.24,538.26 745.65,539.2 744.05,535.82 742.45,530.04 740.86,528.6 739.26,528.47 737.66,528.94 736.06,528.22 734.47,529.86 732.87,530.67 731.27,526.02 729.67,526.76 728.08,529.42 726.48,530.08 724.88,531.08 723.29,545.1 721.69,535.04 720.09,535.17 718.49,533.94 716.9,534.43 715.3,534.5 713.7,533.21 712.1,533.07 710.51,529.94 708.91,529.73 707.31,531.52 705.71,533.19 704.12,532.71 702.52,532.01 700.92,533.7 699.33,532.79 697.73,533.7 696.13,535 694.53,536.17 692.94,535.84 691.34,537.21 689.74,536.45 688.14,536.96 686.55,536.29 684.95,534.61 683.35,533.9 681.76,534.49 680.16,534.97 678.56,538.96 676.96,534.26 675.37,534.16 673.77,533.33 672.17,533.63 670.57,533.79 668.98,533.54 667.38,533.96 665.78,537.89 664.18,533.97 662.59,533.72 660.99,534.39 659.39,535.88 657.8,537.26 656.2,539.09 654.6,539.96 653,540.63 651.41,539.08 649.81,532.56 648.21,532.36 646.61,532.13 645.02,531.07 643.42,531.12 641.82,530.32 640.22,530.09 638.63,530.42 637.03,528.19 635.43,525.13 633.84,524.83 632.24,525.49 630.64,526.84 629.04,526.81 627.45,526.39 625.85,527.61 624.25,528.59 622.65,528.31 621.06,528.94 619.46,531.76 617.86,525.89 616.27,525.52 614.67,524.15 613.07,523.1 611.47,524.51 609.88,523.22 608.28,521.1 606.68,522.44 605.08,523.38 603.49,522.91 601.89,523.68 600.29,529.35 598.69,521.83 597.1,521.67 595.5,521.23 593.9,520.52 592.31,520.34 590.71,518.87 589.11,518.19 587.51,519.9 585.92,519.13 584.32,517.13 582.72,518.5 581.12,519.3 579.53,519.55 577.93,521.49 576.33,534.56 574.73,516.17 573.14,515.12 571.54,512.9 569.94,513.13 568.35,514.58 566.75,515.24 565.15,514.81 563.55,513.72 561.96,513.11 560.36,512.5 558.76,511.71 557.16,511.29 555.57,511.32 553.97,510.41 552.37,509.83 550.78,510.69 549.18,510.32 547.58,512.09 545.98,523.75 544.39,507.04 542.79,505.96 541.19,506.77 539.59,506.22 538,504.26 536.4,503.97 534.8,504.69 533.2,504.76 531.61,503.17 530.01,500.85 528.41,500.42 526.82,501.69 525.22,501.82 523.62,500.58 522.02,499.56 520.43,498.58 518.83,498.43 517.23,498.65 515.63,497.89 514.04,497.31 512.44,496.68 510.84,497.49 509.24,498.75 507.65,497.08 506.05,495.85 504.45,497.35 502.86,499.59 501.26,499.92 499.66,499.27 498.06,498.81 496.47,497.67 494.87,497.6 493.27,497.62 491.67,497.23 490.08,497.45 488.48,496.53 486.88,495.09 485.29,495.73 483.69,495.85 482.09,493.25 480.49,491.08 478.9,490.65 477.3,491.65 475.7,492.8 474.1,492.01 472.51,491.24 470.91,493.06 469.31,494.02 467.71,492.37 466.12,491.05 464.52,491.95 462.92,492.84 461.33,491.67 459.73,490.81 458.13,490.85 456.53,490.22 454.94,490.36 453.34,492.44 451.74,494.34 450.14,493.09 448.55,489.46 446.95,487.13 445.35,488.59 443.76,491.42 442.16,490.44 440.56,488.15 438.96,488.51 437.37,487.89 435.77,487.15 434.17,489.24 432.57,489.87 430.98,488.2 429.38,487.13 427.78,486.99 426.18,486.54 424.59,485.1 422.99,484.38 421.39,485.47 419.8,485.82 418.2,485.92 416.6,486.74 415,488.38 413.41,508.27 411.81,492.7 410.21,491.87 408.61,488.98 407.02,488.29 405.42,488.51 403.82,488.39 402.22,486.63 400.63,484.49 399.03,484.36 397.43,483.86 395.84,481.92 394.24,481.44 392.64,482.88 391.04,482.86 389.45,481.76 387.85,480.89 386.25,480.28 384.65,481.75 383.06,501.2 381.46,485.93 379.86,486.44 378.27,486.15 376.67,486.2 375.07,487.43 373.47,486.75 371.88,484.92 370.28,484.49 368.68,484.7 367.08,484.47 365.49,485.02 363.89,485.29 362.29,485.25 360.69,486.61 359.1,490.14 357.5,487.11 355.9,488.01 354.31,489.03 352.71,488.97 351.11,488.24 349.51,487.27 347.92,487.15 346.32,488.18 344.72,488.08 343.12,488.21 341.53,489.18 339.93,492.28 338.33,490.67 336.73,490.73 335.14,489.45 333.54,487.54 331.94,487.9 330.35,490.09 328.75,489.83 327.15,487.6 325.55,486.43 323.96,488.15 322.36,506.73 320.76,489.48 319.16,489.51 317.57,489.69 315.97,490.13 314.37,489.58 312.78,488.4 311.18,489.43 309.58,490.66 307.98,491.31 306.39,495.03 304.79,489.01 303.19,488.47 301.59,487.28 300,485.61 298.4,482.76 296.8,481.37 295.2,481.6 293.61,484.25 292.01,483.62 290.41,483.86 288.82,482.6 287.22,481.43 285.62,482.06 284.02,484.22 282.43,485.61 280.83,489.25 279.23,487.86 277.63,486.74 276.04,486.29 274.44,486.49 272.84,487.33 271.24,489.25 269.65,506.21 268.05,488.28 266.45,486.94 264.86,486.69 263.26,488.9 261.66,489.04 260.06,489.67 258.47,494.17 256.87,490.29 255.27,489.82 253.67,490.97 252.08,490.54 250.48,489.96 248.88,492.09 247.29,514.52 245.69,493.39 244.09,493.2 242.49,493.29 240.9,490.05 239.3,488.91 237.7,489.34 236.1,494.01 234.51,493.67 232.91,492.93 231.31,491.59 229.71,492.31 228.12,493.71 226.52,508.63 224.92,494.6 223.33,494.69 221.73,495.61 220.13,496.68 218.53,498.24 216.94,512.05 215.34,496.9 213.74,496.47 212.14,496.01 210.55,495.94 208.95,497.38 207.35,498.45 205.76,510.57 204.16,500.01 202.56,499.91 200.96,499.09 199.37,497.84 197.77,500.22 196.17,499.86 194.57,501.97 192.98,504.92 191.38,506.31 189.78,506.96 188.18,521.79 186.59,514.96 184.99,515.23 183.39,515.16 181.8,516.96 180.2,536.29 178.6,518.91 177,518.25 175.41,518.47 173.81,524.49 172.21,526.44 170.61,528.13 169.02,526.46 167.42,525.56 165.82,530.45 164.22,529.06 162.63,527.82 161.03,527.82 159.43,528.56 157.84,531.61 156.24,530.48 154.64,532.21 153.04,534.31 151.45,535.51 149.85,536.58 148.25,550.16 146.65,539.56 145.06,539.5 143.46,539.68 141.86,540.18 140.27,540.26 138.67,539.66 137.07,538.25 135.47,541.24 133.88,541.36 132.28,543.94 130.68,546.58 129.08,548.17 127.49,546.88 125.89,546.54 124.29,546.29 122.69,549.8 121.1,553.5 119.5,562.59" fill="#5656ff"/>
<polygon points="119.5,163.83 121.1,156.19 122.69,159.35 124.29,156.69 125.89,157.63 127.49,158.41 129.08,159.23 130.68,159.08 132.28,159.02 133.88,159.48 135.47,160.72 137.07,155.72 138.67,155.9 140.27,156.18 141.86,156.32 143.46,156.67 145.06,156.33 146.65,156.55 148.25,167.38 149.85,153.36 151.45,152.25 153.04,152.53 154.64,153.29 156.24,153.94 157.84,154.42 159.43,149.56 161.03,148.6 162.63,148.8 164.22,149.64 165.82,150.91 167.42,146.73 169.02,145.94 170.61,146.1 172.21,146.34 173.81,147.57 175.41,143.7 177,144.17 178.6,145 180.2,162.87 181.8,144.65 183.39,142.78 184.99,142.79 186.59,143.13 188.18,149.59 189.78,141.5 191.38,140.82 192.98,141.79 194.57,142.13 196.17,142.15 197.77,143.06 199.37,139.09 200.96,138.76 202.56,139.15 204.16,139.61 205.76,150.2 207.35,138.3 208.95,137.2 210.55,137.07 212.14,137.99 213.74,138.62 215.34,139.1 216.94,154.77 218.53,138.18 220.13,136.57 221.73,136.48 223.33,136.33 224.92,136.94 226.52,150.78 228.12,135.45 229.71,134 231.31,135.04 232.91,136.28 234.51,136.54 236.1,137.66 237.7,132.8 239.3,132.38 240.9,132.38 242.49,132.93 244.09,133.44 245.69,134.01 247.29,155.54 248.88,132.87 250.48,130.66 252.08,130.32 253.67,129.86 255.27,130.1 256.87,130.33 258.47,131.68 260.06,127.3 261.66,127.52 263.26,128.02 264.86,128.61 266.45,128.53 268.05,129.03 269.65,148.5 271.24,127.23 272.84,125.24 274.44,125.86 276.04,125.56 277.63,124.89 279.23,125.33 280.83,126.72 282.43,122.67 284.02,122.71 285.62,123.18 287.22,123.14 288.82,123.26 290.41,123.9 292.01,124.61 293.61,125.33 295.2,121.51 296.8,122.37 298.4,123.39 300,123.84 301.59,124.4 303.19,124.47 304.79,124.57 306.39,131.27 307.98,118.64 309.58,117.96 311.18,118.96 312.78,119.62 314.37,119.97 315.97,120.15 317.57,120.3 319.16,120.62 320.76,121.2 322.36,138.47 323.96,119.21 325.55,117.42 327.15,117.97 328.75,118.19 330.35,118.4 331.94,119.18 333.54,120.05 335.14,120.38 336.73,120.75 338.33,121.31 339.93,122.69 341.53,117.63 343.12,116.54 344.72,117.38 346.32,117.76 347.92,118.04 349.51,118.24 351.11,118.06 352.71,118.11 354.31,119.1 355.9,120.32 357.5,119.62 359.1,120.87 360.69,115.79 362.29,115.92 363.89,116.59 365.49,117.08 367.08,117.65 368.68,117.8 370.28,118.18 371.88,119.13 373.47,119.63 375.07,119.41 376.67,119.23 378.27,119.76 379.86,120.26 381.46,120.11 383.06,135.56 384.65,117.23 386.25,115.7 387.85,115.63 389.45,115.07 391.04,115.06 392.64,115.31 394.24,115.19 395.84,114.97 397.43,115.11 399.03,115.36 400.63,115.48 402.22,115.6 403.82,115.56 405.42,115.62 407.02,116.05 408.61,115.85 410.21,115.39 411.81,115.81 413.41,132.39 415,115.64 416.6,113.94 418.2,114.4 419.8,114.46 421.39,114.79 422.99,115.48 424.59,115.47 426.18,115.53 427.78,116.01 429.38,116.14 430.98,116.42 432.57,116.36 434.17,116.11 435.77,116.2 437.37,116.33 438.96,116.81 440.56,117.49 442.16,117.44 443.76,117.24 445.35,117.45 446.95,117.66 448.55,118.05 450.14,118.23 451.74,118.54 453.34,118.63 454.94,118.61 456.53,119.94 458.13,120.84 459.73,120.26 461.33,119.56 462.92,119.44 464.52,119.77 466.12,119.76 467.71,119.54 469.31,119.92 470.91,120.74 472.51,120.68 474.1,120.11 475.7,120.12 477.3,120.51 478.9,120.96 480.49,121.02 482.09,121.28 483.69,121.71 485.29,121.5 486.88,121.27 488.48,121.37 490.08,121.88 491.67,122.86 493.27,122.85 494.87,121.99 496.47,122.54 498.06,123.84 499.66,123.87 501.26,123.59 502.86,123.94 504.45,124.21 506.05,124.21 507.65,124.41 509.24,124.87 510.84,124.61 512.44,124.17 514.04,124.47 515.63,124.96 517.23,125.41 518.83,125.71 520.43,125.67 522.02,125.71 523.62,126.03 525.22,126.59 526.82,127 528.41,126.75 530.01,126.74 531.61,126.97 533.2,127.25 534.8,127.92 536.4,128.37 538,128.5 539.59,128.3 541.19,127.66 542.79,127.3 544.39,128.16 545.98,148.29 547.58,134.4 549.18,132.3 550.78,132.33 552.37,132.01 553.97,132.21 555.57,132.03 557.16,131.08 558.76,130.62 560.36,130.61 561.96,130.86 563.55,130.75 565.15,130.01 566.75,129.49 568.35,128.86 569.94,127.89 571.54,127.63 573.14,127.55 574.73,128.29 576.33,150.5 577.93,132.65 579.53,130.35 581.12,130.58 582.72,130.41 584.32,129.86 585.92,129.76 587.51,129.96 589.11,129.95 590.71,129.67 592.31,129.02 593.9,128.15 595.5,127.56 597.1,127.82 598.69,128.52 600.29,141.42 601.89,135.39 603.49,134.03 605.08,133.91 606.68,134.04 608.28,133.98 609.88,133.68 611.47,133.73 613.07,133.37 614.67,132.98 616.27,132.92 617.86,133.28 619.46,143.97 621.06,136.38 622.65,135.28 624.25,135.27 625.85,135.02 627.45,134.81 629.04,134.54 630.64,134.26 632.24,134.08 633.84,133.91 635.43,134.2 637.03,139.86 638.63,138.15 640.22,137.56 641.82,137.57 643.42,136.96 645.02,136.55 646.61,135.65 648.21,134.98 649.81,135.45 651.41,146.88 653,139.23 654.6,138.04 656.2,137.53 657.8,137.04 659.39,136.43 660.99,135.89 662.59,134.72 664.18,134.71 665.78,142.12 667.38,135.72 668.98,134.98 670.57,135.72 672.17,136.46 673.77,136.49 675.37,135.63 676.96,135.86 678.56,144.13 680.16,139 681.76,138.15 683.35,138.34 684.95,137.62 686.55,136.45 688.14,135.89 689.74,136.08 691.34,141.57 692.94,139.52 694.53,137.53 696.13,136.02 697.73,134.48 699.33,134.1 700.92,140.98 702.52,139.38 704.12,138.21 705.71,137.94 707.31,136.8 708.91,135.05 710.51,134.11 712.1,139.06 713.7,138.44 715.3,138.21 716.9,137.18 718.49,136.03 720.09,135.09 721.69,135.58 723.29,152.69 724.88,140.45 726.48,138.7 728.08,137.16 729.67,135.35 731.27,134.12 732.87,138.36 734.47,137.71 736.06,137.42 737.66,136.73 739.26,136.35 740.86,136.21 742.45,136.06 744.05,139.47 745.65,137.66 747.24,136.61 748.84,135.68 750.44,136.15 752.04,159.48 753.63,140.43 755.23,138.05 756.83,136.94 758.43,136.31 760.02,140.9 761.62,141.28 763.22,142.24 764.82,141.3 766.41,140.29 768.01,140.28 769.61,146.41 771.2,146.9 772.8,146.78 774.4,147.06 776,147.49 777.59,152.27 779.19,150.89 780.79,149.59 782.39,148.68 783.98,148.43 785.58,153.64 787.18,152.26 788.78,151.33 790.37,151.01 791.97,151.35 793.57,152.06 795.16,156.67 796.76,154.87 798.36,153.73 799.96,154.04 801.55,154.71 803.15,161.06 804.75,160.03 806.35,158.61 807.94,157.38 809.54,156.46 811.14,156.1 812.73,160.16 814.33,157.82 815.93,157.45 817.53,157.76 819.12,170.05 820.72,161.84 822.32,160.58 823.92,159.88 825.51,159.71 827.11,163.42 828.71,160.21 830.31,157.7 831.9,156.06 833.5,156.7 833.5,436.76 831.9,434.2 830.31,434.25 828.71,436.52 827.11,438.88 825.51,434.31 823.92,435.41 822.32,435.5 820.72,437 819.12,445.69 817.53,431 815.93,430.69 814.33,431.87 812.73,434.13 811.14,428.99 809.54,429.61 807.94,429.36 806.35,429.43 804.75,430.24 803.15,432.07 801.55,426.31 799.96,426.47 798.36,425.67 796.76,424.89 795.16,426.3 793.57,421.43 791.97,421.35 790.37,420.9 788.78,421.1 787.18,420.73 785.58,418.18 783.98,414.14 782.39,414.56 780.79,414.74 779.19,415.31 777.59,414.41 776,410.34 774.4,411.45 772.8,410.49 771.2,409.46 769.61,409.87 768.01,406.15 766.41,405.45 764.82,404.06 763.22,402.56 761.62,401.62 760.02,399.34 758.43,392.34 756.83,392.41 755.23,393.97 753.63,395.71 752.04,410.59 750.44,393.41 748.84,393.23 747.24,392.87 745.65,392.24 744.05,392.04 742.45,389.64 740.86,389.22 739.26,388.14 737.66,388.09 736.06,387.14 734.47,386.6 732.87,387.62 731.27,386.22 729.67,388.04 728.08,388.8 726.48,390.02 724.88,391.3 723.29,398.14 721.69,385.69 720.09,385.31 718.49,384.97 716.9,385.92 715.3,388.26 713.7,388.03 712.1,386.65 710.51,382.75 708.91,382.49 707.31,384.38 705.71,387.38 704.12,389.34 702.52,389.07 700.92,386.57 699.33,383.18 697.73,384.7 696.13,387.67 694.53,390.2 692.94,391.48 691.34,393.69 689.74,391.96 688.14,391.74 686.55,392.47 684.95,393.59 683.35,393.02 681.76,392.52 680.16,393.14 678.56,394.92 676.96,389.91 675.37,388.72 673.77,386.6 672.17,386.43 670.57,385.87 668.98,385.06 667.38,385.6 665.78,390.12 664.18,384.66 662.59,384.73 660.99,385.18 659.39,385.36 657.8,385.93 656.2,386.63 654.6,387.74 653,388.61 651.41,393.83 649.81,385.76 648.21,385.15 646.61,384.51 645.02,383.13 643.42,382.8 641.82,383.61 640.22,384.3 638.63,384.73 637.03,386.56 635.43,382.66 633.84,382.22 632.24,381.57 630.64,381.62 629.04,382.44 627.45,382.61 625.85,381.42 624.25,380.25 622.65,380.47 621.06,381.28 619.46,385.09 617.86,377.25 616.27,377.03 614.67,377.47 613.07,378.88 611.47,380.08 609.88,379.36 608.28,379.34 606.68,380.68 605.08,380.85 603.49,380.75 601.89,381.74 600.29,387.62 598.69,378.13 597.1,377.7 595.5,377.62 593.9,378.48 592.31,378.82 590.71,377.69 589.11,376.49 587.51,375.74 585.92,375.18 584.32,375.03 582.72,376.14 581.12,376.88 579.53,376.62 577.93,379.18 576.33,400.89 574.73,376.02 573.14,375.24 571.54,375.34 569.94,374.4 568.35,373.34 566.75,373.26 565.15,373.48 563.55,373.66 561.96,373.41 560.36,372.64 558.76,371.77 557.16,371.15 555.57,371.86 553.97,372.85 552.37,371.82 550.78,370.34 549.18,370.02 547.58,372.37 545.98,383.05 544.39,361.1 542.79,359.59 541.19,359.55 539.59,359.33 538,359.03 536.4,359.75 534.8,359.04 533.2,356.4 531.61,356.17 530.01,356.98 528.41,356.11 526.82,354.97 525.22,354.08 523.62,352.36 522.02,350.32 520.43,349.71 518.83,350.7 517.23,350.85 515.63,349.67 514.04,348.66 512.44,348.39 510.84,349.43 509.24,350.95 507.65,351.46 506.05,351.68 504.45,351.81 502.86,351.32 501.26,350.33 499.66,350.34 498.06,351.7 496.47,352.38 494.87,351.15 493.27,349.38 491.67,348.25 490.08,347.43 488.48,347.03 486.88,347 485.29,346.98 483.69,346.8 482.09,347.96 480.49,348.31 478.9,345.46 477.3,343.92 475.7,344.03 474.1,343.47 472.51,343.81 470.91,344.23 469.31,343.57 467.71,342.49 466.12,342.38 464.52,343.18 462.92,343.33 461.33,343.73 459.73,342.71 458.13,339.71 456.53,338.89 454.94,339.51 453.34,339.19 451.74,339.46 450.14,339.89 448.55,339.89 446.95,340.41 445.35,339.75 443.76,337.76 442.16,337.61 440.56,339.79 438.96,340.66 437.37,340.27 435.77,339.39 434.17,337.79 432.57,337.35 430.98,338.12 429.38,338.93 427.78,337.59 426.18,334.33 424.59,332.61 422.99,333.05 421.39,333.96 419.8,333.27 418.2,332.02 416.6,331.48 415,333.38 413.41,354.53 411.81,335.63 410.21,335.53 408.61,336.2 407.02,337.62 405.42,338.47 403.82,337.51 402.22,336.07 400.63,335.67 399.03,336.48 397.43,337.57 395.84,338.95 394.24,339.61 392.64,339.15 391.04,338.44 389.45,337.57 387.85,336.45 386.25,335.85 384.65,337.56 383.06,356.86 381.46,339.68 379.86,339.76 378.27,338.77 376.67,339.03 375.07,341.67 373.47,342.9 371.88,340.46 370.28,339.86 368.68,341 367.08,340.17 365.49,338.63 363.89,338.19 362.29,338.1 360.69,337.66 359.1,342.35 357.5,341.98 355.9,343.34 354.31,343.48 352.71,344.11 351.11,343.01 349.51,342.19 347.92,343.39 346.32,343.71 344.72,343.15 343.12,342.82 341.53,341.12 339.93,344.87 338.33,346.64 336.73,346.31 335.14,345.33 333.54,345.98 331.94,347.43 330.35,348.05 328.75,345.93 327.15,344.15 325.55,344.09 323.96,346.09 322.36,368.76 320.76,349.29 319.16,348.81 317.57,348.56 315.97,349.85 314.37,350.88 312.78,349.7 311.18,349.23 309.58,349.31 307.98,350.07 306.39,356.74 304.79,349.48 303.19,349.14 301.59,347.37 300,346.04 298.4,343.78 296.8,342.17 295.2,343.44 293.61,347.26 292.01,345.01 290.41,344.87 288.82,345.21 287.22,344.89 285.62,344.83 284.02,344.67 282.43,344.34 280.83,348.9 279.23,348.78 277.63,350.25 276.04,350.81 274.44,349.52 272.84,348.25 271.24,350.48 269.65,371.44 268.05,349.63 266.45,349.11 264.86,348.37 263.26,346.32 261.66,346.27 260.06,347.35 258.47,352.23 256.87,349.6 255.27,347.1 253.67,346.76 252.08,348.63 250.48,349.79 248.88,352.26 247.29,381.5 245.69,357.1 244.09,356.8 242.49,357.13 240.9,356.58 239.3,357.16 237.7,358.46 236.1,362.53 234.51,359.7 232.91,360.01 231.31,357.49 229.71,353.3 228.12,354.91 226.52,370.34 224.92,354.51 223.33,354.19 221.73,353.9 220.13,354.69 218.53,356.5 216.94,375.7 215.34,358.18 213.74,357.65 212.14,358.56 210.55,360.33 208.95,360.91 207.35,362.15 205.76,375.96 204.16,364.42 202.56,363.61 200.96,363.22 199.37,363.69 197.77,368.53 196.17,368.03 194.57,368.77 192.98,369.12 191.38,370 189.78,370.76 188.18,383.42 186.59,375.43 184.99,375.82 183.39,376.39 181.8,378.48 180.2,400.74 178.6,379.9 177,379.84 175.41,380.09 173.81,384.66 172.21,384.1 170.61,385.48 169.02,386.08 167.42,384.98 165.82,388.77 164.22,387.85 162.63,387.92 161.03,388.25 159.43,387.37 157.84,389.99 156.24,390.19 154.64,392.05 153.04,392.07 151.45,392.56 149.85,393.8 148.25,411.46 146.65,398.99 145.06,399.11 143.46,399.73 141.86,399.87 140.27,400.8 138.67,400.75 137.07,400.19 135.47,408.38 133.88,411.55 132.28,412.02 130.68,411.71 129.08,411.39 127.49,411.68 125.89,411.36 124.29,412.47 122.69,418.42 121.1,416.03 119.5,423.18" fill="#2b2bff"/>
<polyline points="119.5,708.76 121.1,705.48 122.69,705.63 124.29,699.61 125.89,699.7 127.49,699.24 129.08,696.37 130.68,696.96 132.28,696.7 133.88,698.94 135.47,701.47 137.07,695.06 138.67,693.8 140.27,695.14 141.86,696.77 143.46,693.62 145.06,688.3 146.65,688.16 148.25,700.26 149.85,689.15 151.45,687.95 153.04,689.3 154.64,689.1 156.24,687.76 157.84,687.05 159.43,682.28 161.03,682.52 162.63,683.53 164.22,684.55 165.82,685.77 167.42,680.81 169.02,680.36 170.61,681.64 172.21,682.85 173.81,682.99 175.41,677.21 177,677.11 178.6,677.46 180.2,697.35 181.8,677.32 183.39,675.3 184.99,678.43 186.59,679.06 188.18,685.79 189.78,675.03 191.38,674.3 192.98,674.06 194.57,675.47 196.17,677.78 197.77,678.06 199.37,671.22 200.96,670.01 202.56,671.76 204.16,672.45 205.76,683.72 207.35,673.59 208.95,672.39 210.55,668.24 212.14,667.8 213.74,671.51 215.34,672.71 216.94,688.99 218.53,679.01 220.13,677.27 221.73,677.3 223.33,676.59 224.92,675.88 226.52,692.23 228.12,665.74 229.71,664.18 231.31,663.54 232.91,663.61 234.51,665.65 236.1,670.13 237.7,664.82 239.3,666.26 240.9,670.98 242.49,670.95 244.09,669.32 245.69,669.63 247.29,693.24 248.88,665.11 250.48,662.72 252.08,661.55 253.67,660.92 255.27,661.04 256.87,663.26 258.47,666.37 260.06,661.73 261.66,662.52 263.26,662.85 264.86,661.71 266.45,661.95 268.05,663.19 269.65,683.57 271.24,661.33 272.84,659.17 274.44,660.22 276.04,659.65 277.63,658.58 279.23,660.17 280.83,665.21 282.43,662.9 284.02,662.5 285.62,664.68 287.22,667.5 288.82,667.76 290.41,666.96 292.01,665.7 293.61,666.44 295.2,664.17 296.8,664.96 298.4,664.74 300,665.69 301.59,667.73 303.19,670.68 304.79,672.67 306.39,678.04 307.98,672.41 309.58,671.68 311.18,670.84 312.78,668.6 314.37,665.24 315.97,663 317.57,663.98 319.16,665.28 320.76,666.26 322.36,684.6 323.96,667.55 325.55,665.62 327.15,666 328.75,663.93 330.35,661.05 331.94,657.7 333.54,657.51 335.14,660.71 336.73,664.19 338.33,668.93 339.93,672.26 341.53,667.56 343.12,668.06 344.72,668.86 346.32,670.07 347.92,672.62 349.51,673.45 351.11,673.54 352.71,674.78 354.31,675.91 355.9,676.21 357.5,674.12 359.1,675.67 360.69,673.24 362.29,675.52 363.89,676.85 365.49,677.02 367.08,677.83 368.68,679.43 370.28,681.5 371.88,682.97 373.47,683.16 375.07,684.05 376.67,685.06 378.27,685.62 379.86,685.36 381.46,684.92 383.06,701.92 384.65,685.26 386.25,683.6 387.85,685.95 389.45,685.49 391.04,683.94 392.64,684.88 394.24,684.76 395.84,682.89 397.43,685.52 399.03,689.81 400.63,689.75 402.22,687.11 403.82,684.93 405.42,683.21 407.02,685.62 408.61,689 410.21,691.45 411.81,691.54 413.41,709.85 415,686.93 416.6,685.09 418.2,684.04 419.8,682.88 421.39,681.74 422.99,685.16 424.59,691.12 426.18,693.49 427.78,693.26 429.38,693.49 430.98,694.02 432.57,694.92 434.17,692.03 435.77,689.92 437.37,691.1 438.96,691.68 440.56,691.03 442.16,690.68 443.76,691.01 445.35,692.67 446.95,693.79 448.55,693.29 450.14,692.4 451.74,693.56 453.34,694.75 454.94,694.51 456.53,692.59 458.13,691.35 459.73,693.02 461.33,694.38 462.92,693.34 464.52,692.09 466.12,693.06 467.71,694.38 469.31,692.58 470.91,691.71 472.51,693.56 474.1,693.68 475.7,691.83 477.3,690.42 478.9,691.68 480.49,694.14 482.09,695.32 483.69,696.01 485.29,696.41 486.88,695.34 488.48,693.05 490.08,692 491.67,693.57 493.27,694.7 494.87,695.41 496.47,694.36 498.06,693.64 499.66,696.11 501.26,699.36 502.86,700.25 504.45,699.35 506.05,697.22 507.65,697.11 509.24,696.87 510.84,694.13 512.44,690.37 514.04,688.98 515.63,688.95 517.23,687.87 518.83,687.94 520.43,689.93 522.02,691.31 523.62,691.69 525.22,692.23 526.82,692.75 528.41,693.68 530.01,696.16 531.61,699.14 533.2,700.64 534.8,702.46 536.4,705.15 538,705.5 539.59,705.82 541.19,706.8 542.79,706.73 544.39,706.71 545.98,714.88 547.58,703.47 549.18,702.65 550.78,704.68 552.37,705.19 553.97,705.21 555.57,707.2 557.16,709.55 558.76,709.92 560.36,708.82 561.96,709.57 563.55,711.09 565.15,711.12 566.75,711.23 568.35,713.25 569.94,714.55 571.54,711.04 573.14,709.32 574.73,709.72 576.33,718.23 577.93,707.26 579.53,706.37 581.12,704.8 582.72,702.28 584.32,702.85 585.92,706.49 587.51,708.56 589.11,710.47 590.71,710.7 592.31,709.88 593.9,710.71 595.5,710.55 597.1,708.97 598.69,708.29 600.29,714.25 601.89,706.14 603.49,705.61 605.08,707.27 606.68,706.85 608.28,705.22 609.88,703.93 611.47,702.53 613.07,704.45 614.67,706.65 616.27,706.14 617.86,706.48 619.46,710.43 621.06,711.47 622.65,711.04 624.25,709.44 625.85,709.95 627.45,711.84 629.04,711.25 630.64,708.74 632.24,706.51 633.84,706.75 635.43,707.46 637.03,709.06 638.63,710.82 640.22,710.59 641.82,712.35 643.42,715.41 645.02,714.35 646.61,711.86 648.21,714.14 649.81,714.81 651.41,718.76 653,712.78 654.6,712.32 656.2,712.57 657.8,712.07 659.39,713.19 660.99,714.49 662.59,713.59 664.18,713.96 665.78,716.46 667.38,718.43 668.98,718.14 670.57,717.04 672.17,714.74 673.77,714.35 675.37,713.13 676.96,711.81 678.56,716.43 680.16,714.15 681.76,713.82 683.35,715.06 684.95,718.13 686.55,721.55 688.14,720.37 689.74,718.93 691.34,719.04 692.94,717.29 694.53,716.48 696.13,717.61 697.73,718.64 699.33,719.63 700.92,723.25 702.52,724.33 704.12,725.07 705.71,722.25 707.31,718.81 708.91,715.5 710.51,714.47 712.1,717.4 713.7,717.52 715.3,716.12 716.9,715.69 718.49,716.09 720.09,716.83 721.69,716.77 723.29,723.66 724.88,708.3 726.48,707.62 728.08,711.98 729.67,715.98 731.27,711.98 732.87,709.22 734.47,710.21 736.06,713.28 737.66,715.26 739.26,716.51 740.86,717.24 742.45,717.32 744.05,718.69 745.65,718.68 747.24,719.45 748.84,721.08 750.44,721.22 752.04,730.32 753.63,716.48 755.23,715.56 756.83,715.58 758.43,716.94 760.02,721.58 761.62,722.28 763.22,722.33 764.82,723.08 766.41,722 768.01,720.23 769.61,722.41 771.2,724.21 772.8,722.06 774.4,718.89 776,717.53 777.59,718.41 779.19,717.05 780.79,716.1 782.39,712.92 783.98,710.73 785.58,714.42 787.18,715.05 788.78,711.56 790.37,709.38 791.97,709.23 793.57,711.23 795.16,718.16 796.76,719.61 798.36,720.09 799.96,721.12 801.55,724.49 803.15,730.38 804.75,727.26 806.35,725.59 807.94,726.16 809.54,726.79 811.14,726.3 812.73,728.05 814.33,726.24 815.93,726.83 817.53,726.49 819.12,737.63 820.72,722.35 822.32,721.27 823.92,719.94 825.51,720.34 827.11,725.89 828.71,725.45 830.31,725.01 831.9,722.24 833.5,720.87" fill="none" stroke="#b2b2ff" stroke-width="0.72" stroke-dasharray="3.16 1.08" stroke-linejoin="round"/>
<polyline points="119.5,76.72 121.1,76.05 122.69,76.59 124.29,76.08 125.89,76.06 127.49,76.36 129.08,76.59 130.68,76.67 132.28,76.82 133.88,77.1 135.47,77.27 137.07,76.37 138.67,76.37 140.27,76.48 141.86,76.25 143.46,76.21 145.06,76.26 146.65,76.32 148.25,77.56 149.85,75.7 151.45,75.57 153.04,75.73 154.64,75.9 156.24,76.17 157.84,76.43 159.43,75.99 161.03,76.04 162.63,75.98 164.22,75.96 165.82,76.07 167.42,75.48 169.02,75.43 170.61,75.63 172.21,75.82 173.81,75.98 175.41,75.41 177,75.29 178.6,75.36 180.2,77.49 181.8,75.13 183.39,74.91 184.99,74.95 186.59,75.03 188.18,75.75 189.78,74.67 191.38,74.59 192.98,74.73 194.57,74.86 196.17,74.75 197.77,74.62 199.37,74.12 200.96,73.85 202.56,73.51 204.16,73.58 205.76,74.81 207.35,73.99 208.95,73.86 210.55,73.66 212.14,73.59 213.74,73.52 215.34,73.6 216.94,75.42 218.53,74.35 220.13,74.16 221.73,74.06 223.33,74.19 224.92,74.26 226.52,75.89 228.12,74.18 229.71,74.01 231.31,74.06 232.91,74.32 234.51,74.4 236.1,74.63 237.7,74.24 239.3,74.31 240.9,74.31 242.49,74.37 244.09,74.5 245.69,74.58 247.29,77.1 248.88,74.79 250.48,74.53 252.08,74.71 253.67,74.56 255.27,74.44 256.87,74.61 258.47,75.04 260.06,74.51 261.66,74.35 263.26,74.57 264.86,74.73 266.45,74.58 268.05,74.65 269.65,76.93 271.24,74.9 272.84,74.67 274.44,74.83 276.04,74.64 277.63,74.49 279.23,74.58 280.83,74.74 282.43,74.22 284.02,74.14 285.62,74.2 287.22,74.15 288.82,74.11 290.41,74.09 292.01,73.88 293.61,73.89 295.2,73.5 296.8,73.45 298.4,73.36 300,73.28 301.59,73.33 303.19,73.62 304.79,73.64 306.39,74.42 307.98,73.35 309.58,73.27 311.18,73.12 312.78,72.83 314.37,72.55 315.97,72.42 317.57,72.2 319.16,72.07 320.76,72.18 322.36,74.17 323.96,72.32 325.55,72.11 327.15,72.07 328.75,72.27 330.35,72.3 331.94,72.29 333.54,72.31 335.14,72.43 336.73,72.75 338.33,72.8 339.93,72.92 341.53,72.34 343.12,72.17 344.72,72.2 346.32,72.17 347.92,72.23 349.51,72.4 351.11,72.51 352.71,72.43 354.31,72.42 355.9,72.48 357.5,72.31 359.1,72.5 360.69,72.32 362.29,72.55 363.89,72.47 365.49,72.17 367.08,72 368.68,72.2 370.28,72.59 371.88,72.9 373.47,72.96 375.07,72.79 376.67,72.91 378.27,72.89 379.86,72.78 381.46,72.91 383.06,74.58 384.65,73.93 386.25,73.75 387.85,73.91 389.45,73.95 391.04,73.89 392.64,73.75 394.24,73.58 395.84,73.55 397.43,73.51 399.03,73.35 400.63,73.52 402.22,73.67 403.82,73.59 405.42,73.78 407.02,73.9 408.61,73.73 410.21,73.68 411.81,73.72 413.41,75.68 415,73.59 416.6,73.39 418.2,73.41 419.8,73.26 421.39,73.23 422.99,72.97 424.59,72.79 426.18,72.85 427.78,72.6 429.38,72.38 430.98,72.4 432.57,72.53 434.17,72.58 435.77,72.22 437.37,71.93 438.96,72.21 440.56,72.19 442.16,72.03 443.76,72.31 445.35,72.28 446.95,72.13 448.55,72.2 450.14,72.21 451.74,72.23 453.34,72.13 454.94,71.95 456.53,72.03 458.13,72.29 459.73,72.26 461.33,72.06 462.92,71.99 464.52,72.22 466.12,72.57 467.71,72.51 469.31,72.43 470.91,72.46 472.51,72.16 474.1,71.94 475.7,72.07 477.3,72.2 478.9,72.18 480.49,72.17 482.09,72.19 483.69,72.07 485.29,72.07 486.88,72.24 488.48,72.22 490.08,72.2 491.67,72.33 493.27,72.25 494.87,72 496.47,71.88 498.06,71.81 499.66,71.92 501.26,72.13 502.86,72.08 504.45,71.9 506.05,72.02 507.65,72.29 509.24,72.28 510.84,72.22 512.44,72.15 514.04,72.09 515.63,72.22 517.23,72.4 518.83,72.51 520.43,72.33 522.02,72.04 523.62,72.08 525.22,72.18 526.82,72.09 528.41,71.84 530.01,71.8 531.61,72.08 533.2,72.16 534.8,72.2 536.4,72.5 538,72.53 539.59,72.59 541.19,72.75 542.79,72.53 544.39,72.58 545.98,75 547.58,73.03 549.18,72.78 550.78,72.76 552.37,72.66 553.97,72.46 555.57,72.32 557.16,72.25 558.76,72.26 560.36,72.05 561.96,71.96 563.55,72.04 565.15,72.08 566.75,72.25 568.35,72.01 569.94,71.49 571.54,71.42 573.14,71.63 574.73,71.72 576.33,74.33 577.93,71.44 579.53,71.17 581.12,71.15 582.72,71.13 584.32,71.2 585.92,71.14 587.51,71.22 589.11,71.49 590.71,71.35 592.31,70.99 593.9,70.92 595.5,70.99 597.1,70.92 598.69,71.02 600.29,72.52 601.89,71.87 603.49,71.71 605.08,71.9 606.68,72.05 608.28,72.35 609.88,72.55 611.47,72.33 613.07,72.02 614.67,72.03 616.27,72.22 617.86,72.28 619.46,73.52 621.06,72.16 622.65,72.03 624.25,72.26 625.85,72.35 627.45,72.29 629.04,72.31 630.64,72.42 632.24,72.15 633.84,71.75 635.43,71.79 637.03,72.45 638.63,71.98 640.22,71.91 641.82,71.93 643.42,72.21 645.02,72.34 646.61,72.38 648.21,72.39 649.81,72.39 651.41,73.79 653,72.81 654.6,72.67 656.2,72.67 657.8,72.48 659.39,72.33 660.99,72.33 662.59,72.16 664.18,72.13 665.78,73.03 667.38,72.41 668.98,72.32 670.57,72.32 672.17,72.19 673.77,72.04 675.37,72.01 676.96,72.08 678.56,73.01 680.16,72.61 681.76,72.51 683.35,72.51 684.95,72.44 686.55,72.59 688.14,72.54 689.74,72.27 691.34,72.49 692.94,72.3 694.53,72.24 696.13,72.14 697.73,72.38 699.33,72.42 700.92,72.97 702.52,72.88 704.12,72.62 705.71,72.27 707.31,72.18 708.91,72.13 710.51,72.35 712.1,73.3 713.7,73.09 715.3,72.91 716.9,73.02 718.49,72.94 720.09,72.66 721.69,72.64 723.29,74.73 724.88,73.45 726.48,73.25 728.08,73.23 729.67,73.01 731.27,72.73 732.87,73.45 734.47,73.58 736.06,73.43 737.66,73.16 739.26,72.87 740.86,73.02 742.45,73.2 744.05,73.6 745.65,73.64 747.24,73.53 748.84,73.5 750.44,73.62 752.04,76.3 753.63,74.14 755.23,73.86 756.83,73.88 758.43,74.04 760.02,74.56 761.62,74 763.22,73.8 764.82,74.1 766.41,74.19 768.01,74.13 769.61,74.52 771.2,74.46 772.8,74.57 774.4,74.81 776,74.87 777.59,75.1 779.19,75.02 780.79,75.28 782.39,75.37 783.98,75.38 785.58,76.1 787.18,76.04 788.78,75.85 790.37,75.8 791.97,75.97 793.57,75.96 795.16,76.45 796.76,76.59 798.36,76.4 799.96,76.14 801.55,76.09 803.15,76.54 804.75,76.45 806.35,76.6 807.94,76.8 809.54,76.81 811.14,76.64 812.73,77.13 814.33,76.98 815.93,76.53 817.53,76.55 819.12,77.73 820.72,76.44 822.32,76.32 823.92,75.78 825.51,75.75 827.11,76.51 828.71,76.33 830.31,75.6 831.9,75.05 833.5,75.2" fill="none" stroke="#0000aa" stroke-width="0.72" stroke-dasharray="3.16 1.08" stroke-linejoin="round"/>
<polyline points="119.5,622.68 121.1,613.36 122.69,613.37 124.29,612 125.89,611.81 127.49,613.18 129.08,613.24 130.68,612.6 132.28,610.18 133.88,609.12 135.47,612.34 137.07,607.56 138.67,603.55 140.27,600.25 141.86,600.19 143.46,602.08 145.06,601.52 146.65,601.88 148.25,611.4 149.85,603.48 151.45,602.49 153.04,601.36 154.64,600.36 156.24,599.34 157.84,599.56 159.43,594.84 161.03,595.91 162.63,598.05 164.22,598.27 165.82,598.58 167.42,596.27 169.02,597.25 170.61,596.96 172.21,595.81 173.81,595.15 175.41,592.33 177,592.5 178.6,592.16 180.2,609.22 181.8,588.13 183.39,586.46 184.99,586.81 186.59,586.75 188.18,592.89 189.78,584.62 191.38,584.01 192.98,584.69 194.57,581.7 196.17,579.26 197.77,580.23 199.37,577.26 200.96,574.43 202.56,571.77 204.16,572.31 205.76,581.65 207.35,571.01 208.95,570.02 210.55,572.38 212.14,575.65 213.74,575.48 215.34,575.4 216.94,589.92 218.53,575.05 220.13,573.61 221.73,573.41 223.33,573.79 224.92,574.65 226.52,586.71 228.12,569.42 229.71,568.13 231.31,568.18 232.91,568.01 234.51,568.25 236.1,571 237.7,568.53 239.3,568.17 240.9,567.29 242.49,568.96 244.09,570.37 245.69,570.92 247.29,590.13 248.88,570.41 250.48,568.43 252.08,567.29 253.67,566.68 255.27,567.1 256.87,566.5 258.47,566.7 260.06,563.12 261.66,563.16 263.26,564.49 264.86,566.8 266.45,566.97 268.05,567 269.65,584.83 271.24,565.08 272.84,563.29 274.44,561.56 276.04,561.66 277.63,563.34 279.23,562.98 280.83,561.31 282.43,556.51 284.02,556.15 285.62,556.24 287.22,555.41 288.82,553.98 290.41,554.09 292.01,555.66 293.61,557.66 295.2,555.66 296.8,555.66 298.4,556.52 300,559.09 301.59,561.87 303.19,563.92 304.79,564.26 306.39,570 307.98,563.18 309.58,562.57 311.18,561.24 312.78,560.12 314.37,558.07 315.97,555.72 317.57,555.29 319.16,555.97 320.76,556.41 322.36,571.93 323.96,557.23 325.55,555.64 327.15,557.24 328.75,558.53 330.35,558.53 331.94,559.49 333.54,559.66 335.14,558.4 336.73,559.53 338.33,560.31 339.93,560.95 341.53,558.05 343.12,559.34 344.72,559.63 346.32,558.2 347.92,558.39 349.51,560.92 351.11,561.54 352.71,559.73 354.31,559.74 355.9,561.19 357.5,560.34 359.1,561.71 360.69,559.22 362.29,558.66 363.89,557.77 365.49,557.78 367.08,559.09 368.68,561.52 370.28,562.22 371.88,560.62 373.47,560.62 375.07,562.45 376.67,563.08 378.27,561.94 379.86,560.32 381.46,559.94 383.06,574 384.65,556.22 386.25,554.85 387.85,555.56 389.45,556.82 391.04,556.3 392.64,557.71 394.24,559.64 395.84,558.66 397.43,556.55 399.03,555.32 400.63,556.56 402.22,560.24 403.82,562.39 405.42,563.19 407.02,565.34 408.61,565.85 410.21,565.87 411.81,565.63 413.41,581.07 415,560.43 416.6,558.91 418.2,556.61 419.8,556.08 421.39,557.6 422.99,559.54 424.59,561.86 426.18,562.68 427.78,562.35 429.38,563.36 430.98,564.35 432.57,565.2 434.17,566.53 435.77,565.61 437.37,564.76 438.96,565.26 440.56,564.08 442.16,561.32 443.76,561.32 445.35,563.22 446.95,563.28 448.55,564.04 450.14,566.47 451.74,568.35 453.34,568.33 454.94,567.69 456.53,567.13 458.13,567.49 459.73,569.38 461.33,569.93 462.92,569.57 464.52,568.58 466.12,568.09 467.71,569 469.31,568.24 470.91,566.59 472.51,566.89 474.1,567.78 475.7,567.74 477.3,567.54 478.9,567.47 480.49,568.6 482.09,569.92 483.69,570.24 485.29,569.99 486.88,571.01 488.48,572.72 490.08,573.62 491.67,574.23 493.27,572.93 494.87,570.59 496.47,570.06 498.06,570.9 499.66,572.32 501.26,573.86 502.86,576 504.45,577.16 506.05,574.54 507.65,572.29 509.24,572.56 510.84,573.33 512.44,572.24 514.04,571.6 515.63,571.53 517.23,569.03 518.83,567.52 520.43,570.25 522.02,573.78 523.62,576.2 525.22,576.49 526.82,575.79 528.41,576.24 530.01,577.12 531.61,578.74 533.2,580.77 534.8,581.02 536.4,580.6 538,580.33 539.59,581.02 541.19,583.63 542.79,585.32 544.39,585.74 545.98,600.14 547.58,587.33 549.18,585.85 550.78,587.37 552.37,590.41 553.97,592.44 555.57,591.62 557.16,589.65 558.76,589.29 560.36,589.74 561.96,588.05 563.55,587.73 565.15,588.85 566.75,588.68 568.35,589.56 569.94,590.89 571.54,590.58 573.14,590.15 574.73,591.19 576.33,606.35 577.93,594.96 579.53,593.34 581.12,591.34 582.72,590.99 584.32,591.62 585.92,590.28 587.51,590.8 589.11,593.23 590.71,594.6 592.31,594.58 593.9,594.67 595.5,593.65 597.1,592.58 598.69,593.25 600.29,599.78 601.89,597.67 603.49,596.95 605.08,597.17 606.68,594.37 608.28,593.11 609.88,593.39 611.47,593.79 613.07,593.59 614.67,594.67 616.27,596.35 617.86,597.14 619.46,602.2 621.06,604.89 622.65,604.3 624.25,604.17 625.85,604.45 627.45,603.61 629.04,602 630.64,601.83 632.24,602.8 633.84,604 635.43,604.21 637.03,607.15 638.63,607.13 640.22,606.82 641.82,606.38 643.42,605.06 645.02,604.33 646.61,605.29 648.21,607.44 649.81,607.59 651.41,613.74 653,612.25 654.6,611.62 656.2,612.28 657.8,612.26 659.39,611.57 660.99,610.03 662.59,609.84 664.18,610.2 665.78,613.76 667.38,612.02 668.98,611.63 670.57,612.49 672.17,613.34 673.77,612.56 675.37,613.28 676.96,613.77 678.56,617.78 680.16,615.09 681.76,614.64 683.35,615.47 684.95,616.59 686.55,614.26 688.14,612.93 689.74,616.17 691.34,618.84 692.94,615.22 694.53,614.39 696.13,614.64 697.73,613.78 699.33,612.27 700.92,613.71 702.52,611.23 704.12,608.4 705.71,608.25 707.31,609.93 708.91,610.07 710.51,609.76 712.1,611.54 713.7,608.81 715.3,607.71 716.9,609.46 718.49,611.35 720.09,610.93 721.69,610.51 723.29,620.24 724.88,609.01 726.48,608.08 728.08,608.34 729.67,608.64 731.27,607.46 732.87,608.75 734.47,608.67 736.06,609.54 737.66,609.27 739.26,608.16 740.86,608.67 742.45,608.99 744.05,611.03 745.65,610.48 747.24,608.11 748.84,606.43 750.44,606.59 752.04,619.03 753.63,610.16 755.23,608.9 756.83,610.6 758.43,611.7 760.02,614.58 761.62,615.21 763.22,616.22 764.82,617.28 766.41,617.66 768.01,617.05 769.61,619.64 771.2,620.29 772.8,620.21 774.4,618.64 776,616.98 777.59,618.37 779.19,618.36 780.79,619.51 782.39,620.28 783.98,622.41 785.58,627.76 787.18,626.41 788.78,624.59 790.37,626.2 791.97,627.38 793.57,626.08 795.16,629.73 796.76,631.3 798.36,631.41 799.96,631.07 801.55,633.92 803.15,640.75 804.75,640.42 806.35,640.32 807.94,639.95 809.54,639.29 811.14,639.77 812.73,643.87 814.33,643.77 815.93,642.81 817.53,642.48 819.12,651.21 820.72,643.34 822.32,642.5 823.92,642.06 825.51,641.43 827.11,643.95 828.71,642.88 830.31,643.59 831.9,645.68 833.5,647.95" fill="none" stroke="#9999ff" stroke-width="1.03" stroke-dasharray="4.54 1.55" stroke-linejoin="round"/>
<polyline points="119.5,95.99 121.1,89.2 122.69,92.64 124.29,90.77 125.89,91.29 127.49,92.4 129.08,93.51 130.68,93.54 132.28,93.44 133.88,93.4 135.47,95.39 137.07,91.67 138.67,91.17 140.27,91.23 141.86,91.1 143.46,90.81 145.06,91.1 146.65,91.47 148.25,101.24 149.85,89.76 151.45,88.74 153.04,88.96 154.64,88.82 156.24,88.55 157.84,89.54 159.43,86.55 161.03,86.48 162.63,86.53 164.22,86.49 165.82,87.1 167.42,83.17 169.02,82.63 170.61,83.2 172.21,83.84 173.81,85.91 175.41,83.06 177,83.22 178.6,83.85 180.2,100.38 181.8,84.02 183.39,82.31 184.99,83.2 186.59,83.55 188.18,89.44 189.78,81.53 191.38,80.9 192.98,81.13 194.57,81.78 196.17,82.67 197.77,84.53 199.37,81.98 200.96,82.13 202.56,82.13 204.16,82.44 205.76,92.27 207.35,81.61 208.95,80.6 210.55,81.09 212.14,81.38 213.74,81.36 215.34,81.86 216.94,96.18 218.53,82.35 220.13,80.87 221.73,80.95 223.33,81.1 224.92,81.57 226.52,94.36 228.12,81.64 229.71,80.31 231.31,80.91 232.91,81.28 234.51,81.57 236.1,84 237.7,80.38 239.3,79.9 240.9,79.7 242.49,80.07 244.09,80.86 245.69,81.6 247.29,101.14 248.88,82.56 250.48,80.54 252.08,80.92 253.67,80.58 255.27,80.08 256.87,80.77 258.47,84.04 260.06,80.85 261.66,80.31 263.26,80.05 264.86,80.27 266.45,80.6 268.05,81.14 269.65,98.93 271.24,81.76 272.84,79.92 274.44,80.22 276.04,80.45 277.63,80.28 279.23,80.43 280.83,82.23 282.43,79.56 284.02,79.77 285.62,80.16 287.22,80.13 288.82,80.09 290.41,80.18 292.01,80.38 293.61,81.77 295.2,79.04 296.8,79.2 298.4,79.34 300,79.43 301.59,79.24 303.19,79.33 304.79,79.55 306.39,85.57 307.98,79.01 309.58,78.39 311.18,78.62 312.78,78.49 314.37,78.04 315.97,77.84 317.57,78.11 319.16,78 320.76,78.37 322.36,94.38 323.96,79.4 325.55,77.76 327.15,77.33 328.75,77.37 330.35,77.57 331.94,77.83 333.54,77.84 335.14,77.49 336.73,77.55 338.33,78.08 339.93,80.92 341.53,78.24 343.12,77.41 344.72,77.44 346.32,77.75 347.92,77.67 349.51,77.7 351.11,77.69 352.71,77.75 354.31,78.04 355.9,77.89 357.5,77.76 359.1,80.84 360.69,77.95 362.29,77.33 363.89,77.24 365.49,77.12 367.08,77.26 368.68,77.99 370.28,78.46 371.88,78.09 373.47,77.6 375.07,77.81 376.67,78.01 378.27,77.91 379.86,77.86 381.46,78.2 383.06,91.9 384.65,78.68 386.25,77.28 387.85,77.51 389.45,77.75 391.04,77.61 392.64,77.53 394.24,77.96 395.84,78.3 397.43,78.1 399.03,78.27 400.63,78.44 402.22,77.95 403.82,77.77 405.42,77.86 407.02,78.04 408.61,78.38 410.21,78.51 411.81,78.96 413.41,94.11 415,79.47 416.6,77.91 418.2,78 419.8,78 421.39,77.78 422.99,77.98 424.59,78.25 426.18,78.11 427.78,78.34 429.38,78.54 430.98,78.5 432.57,78.81 434.17,79.05 435.77,79.01 437.37,79.32 438.96,79.53 440.56,79.43 442.16,79.56 443.76,79.67 445.35,79.37 446.95,79.23 448.55,79.46 450.14,79.49 451.74,79.54 453.34,79.83 454.94,80.21 456.53,80.41 458.13,80.19 459.73,80.07 461.33,80.18 462.92,79.93 464.52,79.54 466.12,79.46 467.71,79.64 469.31,80.06 470.91,80.29 472.51,79.93 474.1,79.66 475.7,79.69 477.3,79.59 478.9,79.46 480.49,79.19 482.09,78.92 483.69,79.03 485.29,79.26 486.88,79.36 488.48,79.29 490.08,79.18 491.67,79.24 493.27,79.37 494.87,79.63 496.47,79.61 498.06,79.28 499.66,79.19 501.26,79.25 502.86,79.19 504.45,79.17 506.05,79.18 507.65,78.74 509.24,78.42 510.84,78.7 512.44,78.96 514.04,79.1 515.63,79.13 517.23,79.02 518.83,78.99 520.43,78.92 522.02,78.7 523.62,78.55 525.22,78.7 526.82,78.69 528.41,78.5 530.01,78.65 531.61,78.88 533.2,78.98 534.8,79.05 536.4,79.17 538,79.4 539.59,79.54 541.19,79.34 542.79,79.2 544.39,79.37 545.98,84.63 547.58,81.49 549.18,80.95 550.78,80.78 552.37,80.5 553.97,80.34 555.57,79.95 557.16,79.58 558.76,79.19 560.36,78.96 561.96,79.19 563.55,79.15 565.15,78.89 566.75,78.7 568.35,78.29 569.94,78.04 571.54,78.57 573.14,79.1 574.73,79.21 576.33,85.04 577.93,79.35 579.53,78.76 581.12,78.86 582.72,78.86 584.32,78.77 585.92,78.66 587.51,78.78 589.11,78.68 590.71,78.39 592.31,78.41 593.9,78.6 595.5,78.66 597.1,78.56 598.69,78.78 600.29,82.08 601.89,79.4 603.49,79.05 605.08,79.28 606.68,79.3 608.28,79.12 609.88,78.94 611.47,79.19 613.07,79.56 614.67,79.28 616.27,78.71 617.86,78.87 619.46,81.57 621.06,80.36 622.65,80.08 624.25,79.92 625.85,80.16 627.45,79.87 629.04,79.7 630.64,79.72 632.24,79.34 633.84,79.38 635.43,79.5 637.03,80.92 638.63,79.35 640.22,79.2 641.82,79.33 643.42,79.56 645.02,79.5 646.61,79.09 648.21,78.78 649.81,78.91 651.41,81.86 653,80.39 654.6,80.09 656.2,80.5 657.8,80.4 659.39,80.03 660.99,79.83 662.59,79.71 664.18,79.64 665.78,81.62 667.38,79.91 668.98,79.72 670.57,79.51 672.17,79.09 673.77,79.15 675.37,79.56 676.96,79.62 678.56,81.76 680.16,80.07 681.76,79.85 683.35,79.48 684.95,79.51 686.55,79.72 688.14,79.74 689.74,79.69 691.34,80.4 692.94,80.34 694.53,80.64 696.13,80.34 697.73,79.84 699.33,79.79 700.92,81.65 702.52,81.2 704.12,80.46 705.71,80.25 707.31,80.27 708.91,80.08 710.51,79.76 712.1,81.33 713.7,81.52 715.3,80.99 716.9,80.27 718.49,80.25 720.09,80.47 721.69,80.6 723.29,85.02 724.88,82.51 726.48,82.05 728.08,81.66 729.67,80.92 731.27,80.56 732.87,82.14 734.47,82.15 736.06,82.08 737.66,82.02 739.26,81.51 740.86,81.05 742.45,80.92 744.05,82.87 745.65,82.49 747.24,81.71 748.84,81.2 750.44,81.36 752.04,91 753.63,83.64 755.23,82.66 756.83,82.03 758.43,81.87 760.02,84.24 761.62,83.56 763.22,83.06 764.82,83.18 766.41,83.04 768.01,82.82 769.61,85.36 771.2,85.68 772.8,85.4 774.4,85.58 776,86.37 777.59,89.15 779.19,89.02 780.79,88.91 782.39,88.7 783.98,88.29 785.58,90.78 787.18,90.64 788.78,90.38 790.37,90.24 791.97,89.75 793.57,89.5 795.16,92.62 796.76,90.32 798.36,89.08 799.96,87.97 801.55,86.78 803.15,90.64 804.75,91.61 806.35,91.43 807.94,90.77 809.54,90.11 811.14,89.45 812.73,92.41 814.33,90.04 815.93,90.14 817.53,90.65 819.12,101.54 820.72,93.94 822.32,92.8 823.92,91.82 825.51,90.69 827.11,93.66 828.71,91.69 830.31,90.32 831.9,87.85 833.5,85.18" fill="none" stroke="#000096" stroke-width="1.03" stroke-dasharray="4.54 1.55" stroke-linejoin="round"/>
<polyline points="119.5,562.59 121.1,553.5 122.69,549.8 124.29,546.29 125.89,546.54 127.49,546.88 129.08,548.17 130.68,546.58 132.28,543.94 133.88,541.36 135.47,541.24 137.07,538.25 138.67,539.66 140.27,540.26 141.86,540.18 143.46,539.68 145.06,539.5 146.65,539.56 148.25,550.16 149.85,536.58 151.45,535.51 153.04,534.31 154.64,532.21 156.24,530.48 157.84,531.61 159.43,528.56 161.03,527.82 162.63,527.82 164.22,529.06 165.82,530.45 167.42,525.56 169.02,526.46 170.61,528.13 172.21,526.44 173.81,524.49 175.41,518.47 177,518.25 178.6,518.91 180.2,536.29 181.8,516.96 183.39,515.16 184.99,515.23 186.59,514.96 188.18,521.79 189.78,506.96 191.38,506.31 192.98,504.92 194.57,501.97 196.17,499.86 197.77,500.22 199.37,497.84 200.96,499.09 202.56,499.91 204.16,500.01 205.76,510.57 207.35,498.45 208.95,497.38 210.55,495.94 212.14,496.01 213.74,496.47 215.34,496.9 216.94,512.05 218.53,498.24 220.13,496.68 221.73,495.61 223.33,494.69 224.92,494.6 226.52,508.63 228.12,493.71 229.71,492.31 231.31,491.59 232.91,492.93 234.51,493.67 236.1,494.01 237.7,489.34 239.3,488.91 240.9,490.05 242.49,493.29 244.09,493.2 245.69,493.39 247.29,514.52 248.88,492.09 250.48,489.96 252.08,490.54 253.67,490.97 255.27,489.82 256.87,490.29 258.47,494.17 260.06,489.67 261.66,489.04 263.26,488.9 264.86,486.69 266.45,486.94 268.05,488.28 269.65,506.21 271.24,489.25 272.84,487.33 274.44,486.49 276.04,486.29 277.63,486.74 279.23,487.86 280.83,489.25 282.43,485.61 284.02,484.22 285.62,482.06 287.22,481.43 288.82,482.6 290.41,483.86 292.01,483.62 293.61,484.25 295.2,481.6 296.8,481.37 298.4,482.76 300,485.61 301.59,487.28 303.19,488.47 304.79,489.01 306.39,495.03 307.98,491.31 309.58,490.66 311.18,489.43 312.78,488.4 314.37,489.58 315.97,490.13 317.57,489.69 319.16,489.51 320.76,489.48 322.36,506.73 323.96,488.15 325.55,486.43 327.15,487.6 328.75,489.83 330.35,490.09 331.94,487.9 333.54,487.54 335.14,489.45 336.73,490.73 338.33,490.67 339.93,492.28 341.53,489.18 343.12,488.21 344.72,488.08 346.32,488.18 347.92,487.15 349.51,487.27 351.11,488.24 352.71,488.97 354.31,489.03 355.9,488.01 357.5,487.11 359.1,490.14 360.69,486.61 362.29,485.25 363.89,485.29 365.49,485.02 367.08,484.47 368.68,484.7 370.28,484.49 371.88,484.92 373.47,486.75 375.07,487.43 376.67,486.2 378.27,486.15 379.86,486.44 381.46,485.93 383.06,501.2 384.65,481.75 386.25,480.28 387.85,480.89 389.45,481.76 391.04,482.86 392.64,482.88 394.24,481.44 395.84,481.92 397.43,483.86 399.03,484.36 400.63,484.49 402.22,486.63 403.82,488.39 405.42,488.51 407.02,488.29 408.61,488.98 410.21,491.87 411.81,492.7 413.41,508.27 415,488.38 416.6,486.74 418.2,485.92 419.8,485.82 421.39,485.47 422.99,484.38 424.59,485.1 426.18,486.54 427.78,486.99 429.38,487.13 430.98,488.2 432.57,489.87 434.17,489.24 435.77,487.15 437.37,487.89 438.96,488.51 440.56,488.15 442.16,490.44 443.76,491.42 445.35,488.59 446.95,487.13 448.55,489.46 450.14,493.09 451.74,494.34 453.34,492.44 454.94,490.36 456.53,490.22 458.13,490.85 459.73,490.81 461.33,491.67 462.92,492.84 464.52,491.95 466.12,491.05 467.71,492.37 469.31,494.02 470.91,493.06 472.51,491.24 474.1,492.01 475.7,492.8 477.3,491.65 478.9,490.65 480.49,491.08 482.09,493.25 483.69,495.85 485.29,495.73 486.88,495.09 488.48,496.53 490.08,497.45 491.67,497.23 493.27,497.62 494.87,497.6 496.47,497.67 498.06,498.81 499.66,499.27 501.26,499.92 502.86,499.59 504.45,497.35 506.05,495.85 507.65,497.08 509.24,498.75 510.84,497.49 512.44,496.68 514.04,497.31 515.63,497.89 517.23,498.65 518.83,498.43 520.43,498.58 522.02,499.56 523.62,500.58 525.22,501.82 526.82,501.69 528.41,500.42 530.01,500.85 531.61,503.17 533.2,504.76 534.8,504.69 536.4,503.97 538,504.26 539.59,506.22 541.19,506.77 542.79,505.96 544.39,507.04 545.98,523.75 547.58,512.09 549.18,510.32 550.78,510.69 552.37,509.83 553.97,510.41 555.57,511.32 557.16,511.29 558.76,511.71 560.36,512.5 561.96,513.11 563.55,513.72 565.15,514.81 566.75,515.24 568.35,514.58 569.94,513.13 571.54,512.9 573.14,515.12 574.73,516.17 576.33,534.56 577.93,521.49 579.53,519.55 581.12,519.3 582.72,518.5 584.32,517.13 585.92,519.13 587.51,519.9 589.11,518.19 590.71,518.87 592.31,520.34 593.9,520.52 595.5,521.23 597.1,521.67 598.69,521.83 600.29,529.35 601.89,523.68 603.49,522.91 605.08,523.38 606.68,522.44 608.28,521.1 609.88,523.22 611.47,524.51 613.07,523.1 614.67,524.15 616.27,525.52 617.86,525.89 619.46,531.76 621.06,528.94 622.65,528.31 624.25,528.59 625.85,527.61 627.45,526.39 629.04,526.81 630.64,526.84 632.24,525.49 633.84,524.83 635.43,525.13 637.03,528.19 638.63,530.42 640.22,530.09 641.82,530.32 643.42,531.12 645.02,531.07 646.61,532.13 648.21,532.36 649.81,532.56 651.41,539.08 653,540.63 654.6,539.96 656.2,539.09 657.8,537.26 659.39,535.88 660.99,534.39 662.59,533.72 664.18,533.97 665.78,537.89 667.38,533.96 668.98,533.54 670.57,533.79 672.17,533.63 673.77,533.33 675.37,534.16 676.96,534.26 678.56,538.96 680.16,534.97 681.76,534.49 683.35,533.9 684.95,534.61 686.55,536.29 688.14,536.96 689.74,536.45 691.34,537.21 692.94,535.84 694.53,536.17 696.13,535 697.73,533.7 699.33,532.79 700.92,533.7 702.52,532.01 704.12,532.71 705.71,533.19 707.31,531.52 708.91,529.73 710.51,529.94 712.1,533.07 713.7,533.21 715.3,534.5 716.9,534.43 718.49,533.94 720.09,535.17 721.69,535.04 723.29,545.1 724.88,531.08 726.48,530.08 728.08,529.42 729.67,526.76 731.27,526.02 732.87,530.67 734.47,529.86 736.06,528.22 737.66,528.94 739.26,528.47 740.86,528.6 742.45,530.04 744.05,535.82 745.65,539.2 747.24,538.26 748.84,536.49 750.44,537.09 752.04,549.93 753.63,538.31 755.23,536.96 756.83,536.68 758.43,537.2 760.02,542.07 761.62,543.29 763.22,543.23 764.82,544.07 766.41,545.2 768.01,544.75 769.61,547.72 771.2,548.62 772.8,548.81 774.4,549.42 776,548.8 777.59,550.5 779.19,551.01 780.79,553.09 782.39,554.36 783.98,554.66 785.58,559.31 787.18,560.74 788.78,560.28 790.37,559.58 791.97,560.31 793.57,560.38 795.16,563.41 796.76,564.53 798.36,567.57 799.96,570.17 801.55,572.92 803.15,578.61 804.75,577.04 806.35,577.13 807.94,577.94 809.54,577.62 811.14,576.72 812.73,579.41 814.33,579.61 815.93,580.45 817.53,580.81 819.12,588.85 820.72,584.5 822.32,583.66 823.92,581.56 825.51,580.36 827.11,582.94 828.71,582.03 830.31,581.42 831.9,580.99 833.5,582.7" fill="none" stroke="#7f7fff" stroke-width="1.35" stroke-dasharray="5.93 2.03" stroke-linejoin="round"/>
<polyline points="119.5,114.98 121.1,108.41 122.69,111.31 124.29,108.32 125.89,109.48 127.49,111.22 129.08,112.51 130.68,112.38 132.28,112.35 133.88,113.34 135.47,115.28 137.07,110.17 138.67,109.75 140.27,110 141.86,110.26 143.46,110.49 145.06,110.18 146.65,110.47 148.25,120.84 149.85,109 151.45,107.94 153.04,107.75 154.64,107.85 156.24,108.79 157.84,110.36 159.43,106.43 161.03,105.6 162.63,105.36 164.22,105.63 165.82,106.88 167.42,104.18 169.02,104.88 170.61,105.03 172.21,105.05 173.81,106.34 175.41,102.48 177,102.81 178.6,103.54 180.2,120.85 181.8,102.88 183.39,101.08 184.99,101.73 186.59,101.97 188.18,108.29 189.78,99.95 191.38,99.29 192.98,99.76 194.57,99.86 196.17,99.9 197.77,101.16 199.37,97.7 200.96,97.61 202.56,97.83 204.16,98.22 205.76,108.49 207.35,96.64 208.95,95.58 210.55,95.91 212.14,96.64 213.74,96.95 215.34,97.52 216.94,112.53 218.53,96.27 220.13,94.71 221.73,94.82 223.33,95.47 224.92,96.06 226.52,109.41 228.12,94.42 229.71,93.02 231.31,93.12 232.91,93.63 234.51,93.94 236.1,96.08 237.7,92.34 239.3,92.2 240.9,92.36 242.49,92.33 244.09,92.19 245.69,93.01 247.29,113.51 248.88,92.64 250.48,90.51 252.08,90.98 253.67,91.17 255.27,90.76 256.87,90.94 258.47,93.49 260.06,89.9 261.66,89.51 263.26,89.28 264.86,89.76 266.45,90.27 268.05,90.83 269.65,109.54 271.24,89.38 272.84,87.46 274.44,87.79 276.04,88.03 277.63,88.44 279.23,89.03 280.83,90.02 282.43,86.37 284.02,86.5 285.62,86.75 287.22,86.49 288.82,86.67 290.41,87.41 292.01,87.92 293.61,88.82 295.2,85.33 296.8,85.41 298.4,85.84 300,86.53 301.59,86.97 303.19,86.76 304.79,86.79 306.39,93.32 307.98,82.47 309.58,81.81 311.18,82.45 312.78,83.05 314.37,83.09 315.97,83.62 317.57,84.44 319.16,84.7 320.76,85.25 322.36,101.92 323.96,85.07 325.55,83.35 327.15,83.8 328.75,84.06 330.35,84.38 331.94,84.72 333.54,85.36 335.14,86.14 336.73,86.13 338.33,85.98 339.93,88.34 341.53,85.32 343.12,84.33 344.72,83.89 346.32,84.12 347.92,84.1 349.51,83.93 351.11,84.98 352.71,85.81 354.31,85.54 355.9,85.7 357.5,85.61 359.1,87.62 360.69,83.67 362.29,83.52 363.89,83.63 365.49,83.92 367.08,84.1 368.68,84.61 370.28,85.45 371.88,85.69 373.47,85.43 375.07,85.6 376.67,85.67 378.27,85.51 379.86,86.02 381.46,86.34 383.06,100.78 384.65,85.38 386.25,83.9 387.85,83.58 389.45,83.6 391.04,83.75 392.64,84.14 394.24,84.19 395.84,83.74 397.43,83.31 399.03,82.86 400.63,83.04 402.22,83.42 403.82,83.42 405.42,84.04 407.02,84.45 408.61,83.97 410.21,83.83 411.81,84.29 413.41,100.23 415,84.7 416.6,83.06 418.2,83.63 419.8,83.89 421.39,83.58 422.99,83.31 424.59,83.83 426.18,84.68 427.78,85.04 429.38,85.17 430.98,85.65 432.57,85.95 434.17,85.98 435.77,86.28 437.37,86.31 438.96,86.28 440.56,86.95 442.16,87.5 443.76,87.37 445.35,87.23 446.95,87.41 448.55,87.42 450.14,86.91 451.74,86.06 453.34,85.65 454.94,86.36 456.53,87.4 458.13,87.25 459.73,86.75 461.33,86.78 462.92,86.7 464.52,86.98 466.12,87.37 467.71,87.37 469.31,87.59 470.91,87.42 472.51,86.94 474.1,87.21 475.7,87.56 477.3,87.27 478.9,87.36 480.49,88.01 482.09,88.01 483.69,87.58 485.29,87.55 486.88,88.05 488.48,88.38 490.08,88.28 491.67,88.38 493.27,88.47 494.87,88.39 496.47,88.47 498.06,88.44 499.66,88.13 501.26,88.23 502.86,89.03 504.45,89.55 506.05,89.24 507.65,88.87 509.24,88.92 510.84,88.82 512.44,88.6 514.04,88.71 515.63,89.08 517.23,89.24 518.83,89.25 520.43,89.52 522.02,89.72 523.62,89.88 525.22,89.88 526.82,89.58 528.41,89.47 530.01,89.52 531.61,89.61 533.2,89.92 534.8,90.16 536.4,90.11 538,89.95 539.59,89.41 541.19,88.75 542.79,88.56 544.39,89.3 545.98,105.85 547.58,94.74 549.18,93.01 550.78,92.39 552.37,92.01 553.97,91.87 555.57,91.3 557.16,90.45 558.76,89.9 560.36,89.66 561.96,89.8 563.55,89.81 565.15,88.84 566.75,88.43 568.35,88.54 569.94,87.7 571.54,87.25 573.14,87.33 574.73,87.91 576.33,106.23 577.93,92.26 579.53,90.37 581.12,89.71 582.72,89.18 584.32,88.81 585.92,88.51 587.51,88.46 589.11,88.43 590.71,88.29 592.31,88.16 593.9,87.8 595.5,87.46 597.1,87.46 598.69,87.96 600.29,98.66 601.89,92.42 603.49,91.3 605.08,90.97 606.68,90.9 608.28,90.59 609.88,90.47 611.47,90.69 613.07,90.12 614.67,89.3 616.27,89.46 617.86,89.91 619.46,98.56 621.06,92.61 622.65,91.7 624.25,91.43 625.85,91.29 627.45,90.69 629.04,90.22 630.64,90.18 632.24,90.23 633.84,90.37 635.43,90.6 637.03,95.27 638.63,92.58 640.22,92.09 641.82,92.25 643.42,92.19 645.02,91.75 646.61,91.56 648.21,90.94 649.81,91.04 651.41,100.74 653,93.76 654.6,92.78 656.2,92.02 657.8,91.46 659.39,90.7 660.99,89.95 662.59,89.98 664.18,90.27 665.78,96.07 667.38,91.87 668.98,91.26 670.57,91.28 672.17,91.23 673.77,91.29 675.37,91.1 676.96,91.26 678.56,98.1 680.16,95.11 681.76,94.41 683.35,93.35 684.95,92.3 686.55,91.95 688.14,91.51 689.74,90.92 691.34,95.27 692.94,94.8 694.53,94.77 696.13,94.23 697.73,92.51 699.33,90.9 700.92,96.07 702.52,95.41 704.12,94.48 705.71,93.78 707.31,93.3 708.91,92.49 710.51,91.44 712.1,95.12 713.7,94.58 715.3,94.41 716.9,93.78 718.49,93.2 720.09,92.65 721.69,93.07 723.29,107.14 724.88,96.98 726.48,95.53 728.08,94.51 729.67,93.44 731.27,92.26 732.87,95.38 734.47,94.57 736.06,93.94 737.66,94.16 739.26,94.72 740.86,94.32 742.45,93.95 744.05,97.36 745.65,96.87 747.24,96.63 748.84,96.19 750.44,96.66 752.04,115.79 753.63,100.89 755.23,98.93 756.83,98.15 758.43,97.38 760.02,100.81 761.62,99.87 763.22,100.07 764.82,99.98 766.41,99.64 768.01,99.88 769.61,103.89 771.2,103.66 772.8,103.26 774.4,103.95 776,105.28 777.59,109.51 779.19,108.4 780.79,108.13 782.39,108.21 783.98,108.08 785.58,112.19 787.18,111.08 788.78,110.5 790.37,110.32 791.97,110.06 793.57,109.47 795.16,113.18 796.76,110.67 798.36,108.88 799.96,109.52 801.55,110.33 803.15,115.76 804.75,113.9 806.35,113.02 807.94,112.09 809.54,111.31 811.14,110.56 812.73,114.33 814.33,111.81 815.93,111.87 817.53,112.41 819.12,125.67 820.72,118.32 822.32,116.94 823.92,115.2 825.51,113.54 827.11,116.91 828.71,114.33 830.31,112.16 831.9,108.52 833.5,105.74" fill="none" stroke="#000080" stroke-width="1.35" stroke-dasharray="5.93 2.03" stroke-linejoin="round"/>
<polyline points="119.5,423.18 121.1,416.03 122.69,418.42 124.29,412.47 125.89,411.36 127.49,411.68 129.08,411.39 130.68,411.71 132.28,412.02 133.88,411.55 135.47,408.38 137.07,400.19 138.67,400.75 140.27,400.8 141.86,399.87 143.46,399.73 145.06,399.11 146.65,398.99 148.25,411.46 149.85,393.8 151.45,392.56 153.04,392.07 154.64,392.05 156.24,390.19 157.84,389.99 159.43,387.37 161.03,388.25 162.63,387.92 164.22,387.85 165.82,388.77 167.42,384.98 169.02,386.08 170.61,385.48 172.21,384.1 173.81,384.66 175.41,380.09 177,379.84 178.6,379.9 180.2,400.74 181.8,378.48 183.39,376.39 184.99,375.82 186.59,375.43 188.18,383.42 189.78,370.76 191.38,370 192.98,369.12 194.57,368.77 196.17,368.03 197.77,368.53 199.37,363.69 200.96,363.22 202.56,363.61 204.16,364.42 205.76,375.96 207.35,362.15 208.95,360.91 210.55,360.33 212.14,358.56 213.74,357.65 215.34,358.18 216.94,375.7 218.53,356.5 220.13,354.69 221.73,353.9 223.33,354.19 224.92,354.51 226.52,370.34 228.12,354.91 229.71,353.3 231.31,357.49 232.91,360.01 234.51,359.7 236.1,362.53 237.7,358.46 239.3,357.16 240.9,356.58 242.49,357.13 244.09,356.8 245.69,357.1 247.29,381.5 248.88,352.26 250.48,349.79 252.08,348.63 253.67,346.76 255.27,347.1 256.87,349.6 258.47,352.23 260.06,347.35 261.66,346.27 263.26,346.32 264.86,348.37 266.45,349.11 268.05,349.63 269.65,371.44 271.24,350.48 272.84,348.25 274.44,349.52 276.04,350.81 277.63,350.25 279.23,348.78 280.83,348.9 282.43,344.34 284.02,344.67 285.62,344.83 287.22,344.89 288.82,345.21 290.41,344.87 292.01,345.01 293.61,347.26 295.2,343.44 296.8,342.17 298.4,343.78 300,346.04 301.59,347.37 303.19,349.14 304.79,349.48 306.39,356.74 307.98,350.07 309.58,349.31 311.18,349.23 312.78,349.7 314.37,350.88 315.97,349.85 317.57,348.56 319.16,348.81 320.76,349.29 322.36,368.76 323.96,346.09 325.55,344.09 327.15,344.15 328.75,345.93 330.35,348.05 331.94,347.43 333.54,345.98 335.14,345.33 336.73,346.31 338.33,346.64 339.93,344.87 341.53,341.12 343.12,342.82 344.72,343.15 346.32,343.71 347.92,343.39 349.51,342.19 351.11,343.01 352.71,344.11 354.31,343.48 355.9,343.34 357.5,341.98 359.1,342.35 360.69,337.66 362.29,338.1 363.89,338.19 365.49,338.63 367.08,340.17 368.68,341 370.28,339.86 371.88,340.46 373.47,342.9 375.07,341.67 376.67,339.03 378.27,338.77 379.86,339.76 381.46,339.68 383.06,356.86 384.65,337.56 386.25,335.85 387.85,336.45 389.45,337.57 391.04,338.44 392.64,339.15 394.24,339.61 395.84,338.95 397.43,337.57 399.03,336.48 400.63,335.67 402.22,336.07 403.82,337.51 405.42,338.47 407.02,337.62 408.61,336.2 410.21,335.53 411.81,335.63 413.41,354.53 415,333.38 416.6,331.48 418.2,332.02 419.8,333.27 421.39,333.96 422.99,333.05 424.59,332.61 426.18,334.33 427.78,337.59 429.38,338.93 430.98,338.12 432.57,337.35 434.17,337.79 435.77,339.39 437.37,340.27 438.96,340.66 440.56,339.79 442.16,337.61 443.76,337.76 445.35,339.75 446.95,340.41 448.55,339.89 450.14,339.89 451.74,339.46 453.34,339.19 454.94,339.51 456.53,338.89 458.13,339.71 459.73,342.71 461.33,343.73 462.92,343.33 464.52,343.18 466.12,342.38 467.71,342.49 469.31,343.57 470.91,344.23 472.51,343.81 474.1,343.47 475.7,344.03 477.3,343.92 478.9,345.46 480.49,348.31 482.09,347.96 483.69,346.8 485.29,346.98 486.88,347 488.48,347.03 490.08,347.43 491.67,348.25 493.27,349.38 494.87,351.15 496.47,352.38 498.06,351.7 499.66,350.34 501.26,350.33 502.86,351.32 504.45,351.81 506.05,351.68 507.65,351.46 509.24,350.95 510.84,349.43 512.44,348.39 514.04,348.66 515.63,349.67 517.23,350.85 518.83,350.7 520.43,349.71 522.02,350.32 523.62,352.36 525.22,354.08 526.82,354.97 528.41,356.11 530.01,356.98 531.61,356.17 533.2,356.4 534.8,359.04 536.4,359.75 538,359.03 539.59,359.33 541.19,359.55 542.79,359.59 544.39,361.1 545.98,383.05 547.58,372.37 549.18,370.02 550.78,370.34 552.37,371.82 553.97,372.85 555.57,371.86 557.16,371.15 558.76,371.77 560.36,372.64 561.96,373.41 563.55,373.66 565.15,373.48 566.75,373.26 568.35,373.34 569.94,374.4 571.54,375.34 573.14,375.24 574.73,376.02 576.33,400.89 577.93,379.18 579.53,376.62 581.12,376.88 582.72,376.14 584.32,375.03 585.92,375.18 587.51,375.74 589.11,376.49 590.71,377.69 592.31,378.82 593.9,378.48 595.5,377.62 597.1,377.7 598.69,378.13 600.29,387.62 601.89,381.74 603.49,380.75 605.08,380.85 606.68,380.68 608.28,379.34 609.88,379.36 611.47,380.08 613.07,378.88 614.67,377.47 616.27,377.03 617.86,377.25 619.46,385.09 621.06,381.28 622.65,380.47 624.25,380.25 625.85,381.42 627.45,382.61 629.04,382.44 630.64,381.62 632.24,381.57 633.84,382.22 635.43,382.66 637.03,386.56 638.63,384.73 640.22,384.3 641.82,383.61 643.42,382.8 645.02,383.13 646.61,384.51 648.21,385.15 649.81,385.76 651.41,393.83 653,388.61 654.6,387.74 656.2,386.63 657.8,385.93 659.39,385.36 660.99,385.18 662.59,384.73 664.18,384.66 665.78,390.12 667.38,385.6 668.98,385.06 670.57,385.87 672.17,386.43 673.77,386.6 675.37,388.72 676.96,389.91 678.56,394.92 680.16,393.14 681.76,392.52 683.35,393.02 684.95,393.59 686.55,392.47 688.14,391.74 689.74,391.96 691.34,393.69 692.94,391.48 694.53,390.2 696.13,387.67 697.73,384.7 699.33,383.18 700.92,386.57 702.52,389.07 704.12,389.34 705.71,387.38 707.31,384.38 708.91,382.49 710.51,382.75 712.1,386.65 713.7,388.03 715.3,388.26 716.9,385.92 718.49,384.97 720.09,385.31 721.69,385.69 723.29,398.14 724.88,391.3 726.48,390.02 728.08,388.8 729.67,388.04 731.27,386.22 732.87,387.62 734.47,386.6 736.06,387.14 737.66,388.09 739.26,388.14 740.86,389.22 742.45,389.64 744.05,392.04 745.65,392.24 747.24,392.87 748.84,393.23 750.44,393.41 752.04,410.59 753.63,395.71 755.23,393.97 756.83,392.41 758.43,392.34 760.02,399.34 761.62,401.62 763.22,402.56 764.82,404.06 766.41,405.45 768.01,406.15 769.61,409.87 771.2,409.46 772.8,410.49 774.4,411.45 776,410.34 777.59,414.41 779.19,415.31 780.79,414.74 782.39,414.56 783.98,414.14 785.58,418.18 787.18,420.73 788.78,421.1 790.37,420.9 791.97,421.35 793.57,421.43 795.16,426.3 796.76,424.89 798.36,425.67 799.96,426.47 801.55,426.31 803.15,432.07 804.75,430.24 806.35,429.43 807.94,429.36 809.54,429.61 811.14,428.99 812.73,434.13 814.33,431.87 815.93,430.69 817.53,431 819.12,445.69 820.72,437 822.32,435.5 823.92,435.41 825.51,434.31 827.11,438.88 828.71,436.52 830.31,434.25 831.9,434.2 833.5,436.76" fill="none" stroke="#6666ff" stroke-width="1.71" stroke-dasharray="7.5 2.56" stroke-linejoin="round"/>
<polyline points="119.5,163.83 121.1,156.19 122.69,159.35 124.29,156.69 125.89,157.63 127.49,158.41 129.08,159.23 130.68,159.08 132.28,159.02 133.88,159.48 135.47,160.72 137.07,155.72 138.67,155.9 140.27,156.18 141.86,156.32 143.46,156.67 145.06,156.33 146.65,156.55 148.25,167.38 149.85,153.36 151.45,152.25 153.04,152.53 154.64,153.29 156.24,153.94 157.84,154.42 159.43,149.56 161.03,148.6 162.63,148.8 164.22,149.64 165.82,150.91 167.42,146.73 169.02,145.94 170.61,146.1 172.21,146.34 173.81,147.57 175.41,143.7 177,144.17 178.6,145 180.2,162.87 181.8,144.65 183.39,142.78 184.99,142.79 186.59,143.13 188.18,149.59 189.78,141.5 191.38,140.82 192.98,141.79 194.57,142.13 196.17,142.15 197.77,143.06 199.37,139.09 200.96,138.76 202.56,139.15 204.16,139.61 205.76,150.2 207.35,138.3 208.95,137.2 210.55,137.07 212.14,137.99 213.74,138.62 215.34,139.1 216.94,154.77 218.53,138.18 220.13,136.57 221.73,136.48 223.33,136.33 224.92,136.94 226.52,150.78 228.12,135.45 229.71,134 231.31,135.04 232.91,136.28 234.51,136.54 236.1,137.66 237.7,132.8 239.3,132.38 240.9,132.38 242.49,132.93 244.09,133.44 245.69,134.01 247.29,155.54 248.88,132.87 250.48,130.66 252.08,130.32 253.67,129.86 255.27,130.1 256.87,130.33 258.47,131.68 260.06,127.3 261.66,127.52 263.26,128.02 264.86,128.61 266.45,128.53 268.05,129.03 269.65,148.5 271.24,127.23 272.84,125.24 274.44,125.86 276.04,125.56 277.63,124.89 279.23,125.33 280.83,126.72 282.43,122.67 284.02,122.71 285.62,123.18 287.22,123.14 288.82,123.26 290.41,123.9 292.01,124.61 293.61,125.33 295.2,121.51 296.8,122.37 298.4,123.39 300,123.84 301.59,124.4 303.19,124.47 304.79,124.57 306.39,131.27 307.98,118.64 309.58,117.96 311.18,118.96 312.78,119.62 314.37,119.97 315.97,120.15 317.57,120.3 319.16,120.62 320.76,121.2 322.36,138.47 323.96,119.21 325.55,117.42 327.15,117.97 328.75,118.19 330.35,118.4 331.94,119.18 333.54,120.05 335.14,120.38 336.73,120.75 338.33,121.31 339.93,122.69 341.53,117.63 343.12,116.54 344.72,117.38 346.32,117.76 347.92,118.04 349.51,118.24 351.11,118.06 352.71,118.11 354.31,119.1 355.9,120.32 357.5,119.62 359.1,120.87 360.69,115.79 362.29,115.92 363.89,116.59 365.49,117.08 367.08,117.65 368.68,117.8 370.28,118.18 371.88,119.13 373.47,119.63 375.07,119.41 376.67,119.23 378.27,119.76 379.86,120.26 381.46,120.11 383.06,135.56 384.65,117.23 386.25,115.7 387.85,115.63 389.45,115.07 391.04,115.06 392.64,115.31 394.24,115.19 395.84,114.97 397.43,115.11 399.03,115.36 400.63,115.48 402.22,115.6 403.82,115.56 405.42,115.62 407.02,116.05 408.61,115.85 410.21,115.39 411.81,115.81 413.41,132.39 415,115.64 416.6,113.94 418.2,114.4 419.8,114.46 421.39,114.79 422.99,115.48 424.59,115.47 426.18,115.53 427.78,116.01 429.38,116.14 430.98,116.42 432.57,116.36 434.17,116.11 435.77,116.2 437.37,116.33 438.96,116.81 440.56,117.49 442.16,117.44 443.76,117.24 445.35,117.45 446.95,117.66 448.55,118.05 450.14,118.23 451.74,118.54 453.34,118.63 454.94,118.61 456.53,119.94 458.13,120.84 459.73,120.26 461.33,119.56 462.92,119.44 464.52,119.77 466.12,119.76 467.71,119.54 469.31,119.92 470.91,120.74 472.51,120.68 474.1,120.11 475.7,120.12 477.3,120.51 478.9,120.96 480.49,121.02 482.09,121.28 483.69,121.71 485.29,121.5 486.88,121.27 488.48,121.37 490.08,121.88 491.67,122.86 493.27,122.85 494.87,121.99 496.47,122.54 498.06,123.84 499.66,123.87 501.26,123.59 502.86,123.94 504.45,124.21 506.05,124.21 507.65,124.41 509.24,124.87 510.84,124.61 512.44,124.17 514.04,124.47 515.63,124.96 517.23,125.41 518.83,125.71 520.43,125.67 522.02,125.71 523.62,126.03 525.22,126.59 526.82,127 528.41,126.75 530.01,126.74 531.61,126.97 533.2,127.25 534.8,127.92 536.4,128.37 538,128.5 539.59,128.3 541.19,127.66 542.79,127.3 544.39,128.16 545.98,148.29 547.58,134.4 549.18,132.3 550.78,132.33 552.37,132.01 553.97,132.21 555.57,132.03 557.16,131.08 558.76,130.62 560.36,130.61 561.96,130.86 563.55,130.75 565.15,130.01 566.75,129.49 568.35,128.86 569.94,127.89 571.54,127.63 573.14,127.55 574.73,128.29 576.33,150.5 577.93,132.65 579.53,130.35 581.12,130.58 582.72,130.41 584.32,129.86 585.92,129.76 587.51,129.96 589.11,129.95 590.71,129.67 592.31,129.02 593.9,128.15 595.5,127.56 597.1,127.82 598.69,128.52 600.29,141.42 601.89,135.39 603.49,134.03 605.08,133.91 606.68,134.04 608.28,133.98 609.88,133.68 611.47,133.73 613.07,133.37 614.67,132.98 616.27,132.92 617.86,133.28 619.46,143.97 621.06,136.38 622.65,135.28 624.25,135.27 625.85,135.02 627.45,134.81 629.04,134.54 630.64,134.26 632.24,134.08 633.84,133.91 635.43,134.2 637.03,139.86 638.63,138.15 640.22,137.56 641.82,137.57 643.42,136.96 645.02,136.55 646.61,135.65 648.21,134.98 649.81,135.45 651.41,146.88 653,139.23 654.6,138.04 656.2,137.53 657.8,137.04 659.39,136.43 660.99,135.89 662.59,134.72 664.18,134.71 665.78,142.12 667.38,135.72 668.98,134.98 670.57,135.72 672.17,136.46 673.77,136.49 675.37,135.63 676.96,135.86 678.56,144.13 680.16,139 681.76,138.15 683.35,138.34 684.95,137.62 686.55,136.45 688.14,135.89 689.74,136.08 691.34,141.57 692.94,139.52 694.53,137.53 696.13,136.02 697.73,134.48 699.33,134.1 700.92,140.98 702.52,139.38 704.12,138.21 705.71,137.94 707.31,136.8 708.91,135.05 710.51,134.11 712.1,139.06 713.7,138.44 715.3,138.21 716.9,137.18 718.49,136.03 720.09,135.09 721.69,135.58 723.29,152.69 724.88,140.45 726.48,138.7 728.08,137.16 729.67,135.35 731.27,134.12 732.87,138.36 734.47,137.71 736.06,137.42 737.66,136.73 739.26,136.35 740.86,136.21 742.45,136.06 744.05,139.47 745.65,137.66 747.24,136.61 748.84,135.68 750.44,136.15 752.04,159.48 753.63,140.43 755.23,138.05 756.83,136.94 758.43,136.31 760.02,140.9 761.62,141.28 763.22,142.24 764.82,141.3 766.41,140.29 768.01,140.28 769.61,146.41 771.2,146.9 772.8,146.78 774.4,147.06 776,147.49 777.59,152.27 779.19,150.89 780.79,149.59 782.39,148.68 783.98,148.43 785.58,153.64 787.18,152.26 788.78,151.33 790.37,151.01 791.97,151.35 793.57,152.06 795.16,156.67 796.76,154.87 798.36,153.73 799.96,154.04 801.55,154.71 803.15,161.06 804.75,160.03 806.35,158.61 807.94,157.38 809.54,156.46 811.14,156.1 812.73,160.16 814.33,157.82 815.93,157.45 817.53,157.76 819.12,170.05 820.72,161.84 822.32,160.58 823.92,159.88 825.51,159.71 827.11,163.42 828.71,160.21 830.31,157.7 831.9,156.06 833.5,156.7" fill="none" stroke="#00006c" stroke-width="1.71" stroke-dasharray="7.5 2.56" stroke-linejoin="round"/>
<polyline points="119.5,255.24 121.1,246.3 122.69,249.04 124.29,245.21 125.89,245.74 127.49,246.89 129.08,247.49 130.68,244.7 132.28,241.94 133.88,240.13 135.47,240.23 137.07,234.5 138.67,234.79 140.27,235.9 141.86,236.34 143.46,236.83 145.06,237.97 146.65,238.29 148.25,250.97 149.85,234.16 151.45,232.86 153.04,231.9 154.64,231.25 156.24,231.64 157.84,232.61 159.43,227.57 161.03,227.34 162.63,227.03 164.22,226.47 165.82,227.69 167.42,222.98 169.02,221.93 170.61,221.95 172.21,222.54 173.81,224.33 175.41,219.51 177,220.13 178.6,220.95 180.2,242.13 181.8,219.63 183.39,217.43 184.99,217.69 186.59,218.09 188.18,225.69 189.78,215.16 191.38,214.36 192.98,214.86 194.57,214.79 196.17,215.55 197.77,218.01 199.37,214.06 200.96,213.63 202.56,213.04 204.16,213.31 205.76,226.04 207.35,211.45 208.95,210.15 210.55,210.22 212.14,211.23 213.74,212.15 215.34,212.7 216.94,231.15 218.53,211.46 220.13,209.56 221.73,209.93 223.33,209.94 224.92,210.52 226.52,226.94 228.12,210.64 229.71,208.94 231.31,209.06 232.91,208.99 234.51,209.25 236.1,211.31 237.7,206.16 239.3,206.4 240.9,206.62 242.49,206.78 244.09,207.33 245.69,208.26 247.29,233.33 248.88,205.82 250.48,203.22 252.08,203.16 253.67,203.48 255.27,203.73 256.87,204.48 258.47,207.14 260.06,201.78 261.66,201.13 263.26,200.88 264.86,200.72 266.45,201.18 268.05,202.14 269.65,224.68 271.24,200.92 272.84,198.57 274.44,198.29 276.04,198.16 277.63,198.28 279.23,199.23 280.83,200.82 282.43,196.34 284.02,196.27 285.62,196.42 287.22,196.62 288.82,197.09 290.41,197.63 292.01,198.59 293.61,200.78 295.2,197.04 296.8,196.8 298.4,196.68 300,197.3 301.59,198.46 303.19,199.57 304.79,200.22 306.39,207.57 307.98,197.97 309.58,197.17 311.18,197.59 312.78,197.24 314.37,197.72 315.97,198.48 317.57,198.52 319.16,198.97 320.76,199.87 322.36,219.97 323.96,198.81 325.55,196.71 327.15,197.4 328.75,198.22 330.35,199.36 331.94,199.54 333.54,199.42 335.14,200.33 336.73,201.19 338.33,200.97 339.93,203.06 341.53,198.47 343.12,197.02 344.72,196.99 346.32,197.07 347.92,197.24 349.51,198.08 351.11,198.53 352.71,198.27 354.31,198.34 355.9,198.88 357.5,198.46 359.1,200.88 360.69,195.2 362.29,194.79 363.89,195.46 365.49,196.15 367.08,196 368.68,196.38 370.28,197.19 371.88,197.12 373.47,197.41 375.07,198 376.67,197.99 378.27,198.28 379.86,198.88 381.46,198.86 383.06,216.88 384.65,194.84 386.25,193.04 387.85,192.28 389.45,191.72 391.04,191.99 392.64,192.38 394.24,192.58 395.84,192.58 397.43,192.6 399.03,192.55 400.63,192.06 402.22,191.97 403.82,192.34 405.42,192.37 407.02,192.31 408.61,192.38 410.21,192.6 411.81,193.06 413.41,212.6 415,191.34 416.6,189.34 418.2,189.03 419.8,189.05 421.39,189.22 422.99,189.82 424.59,191.21 426.18,192.1 427.78,192.01 429.38,191.62 430.98,191.47 432.57,192.09 434.17,192.79 435.77,193.14 437.37,193.29 438.96,193.47 440.56,193.83 442.16,194.69 443.76,195.72 445.35,195.43 446.95,194.69 448.55,194.88 450.14,195.74 451.74,196.08 453.34,195.64 454.94,196.05 456.53,197.07 458.13,197.73 459.73,197.59 461.33,196.59 462.92,195.89 464.52,196.06 466.12,196.59 467.71,196.94 469.31,196.88 470.91,197.09 472.51,197.84 474.1,198.11 475.7,197.95 477.3,197.95 478.9,197.96 480.49,198.68 482.09,199.66 483.69,199.33 485.29,199.24 486.88,199.86 488.48,199.83 490.08,199.63 491.67,199.52 493.27,199.38 494.87,199.57 496.47,200.74 498.06,201.69 499.66,201.47 501.26,201.48 502.86,202.02 504.45,201.94 506.05,201.29 507.65,201.17 509.24,201.89 510.84,202.31 512.44,201.93 514.04,201.88 515.63,202.25 517.23,202.51 518.83,202.57 520.43,202.74 522.02,202.93 523.62,203.07 525.22,203.49 526.82,203.45 528.41,202.91 530.01,202.58 531.61,202.55 533.2,202.22 534.8,202.31 536.4,203.09 538,202.74 539.59,201.44 541.19,200.95 542.79,201.32 544.39,202.52 545.98,226.02 547.58,213.17 549.18,210.7 550.78,208.62 552.37,207.83 553.97,208.24 555.57,208.14 557.16,208.23 558.76,208 560.36,207.18 561.96,206.44 563.55,205.82 565.15,205.83 566.75,205.95 568.35,206.23 569.94,206.22 571.54,205.48 573.14,205.42 574.73,206.35 576.33,232.42 577.93,210.62 579.53,207.92 581.12,207.66 582.72,207.85 584.32,208.9 585.92,209.56 587.51,209.12 589.11,208.44 590.71,208.36 592.31,208.5 593.9,208.39 595.5,208.35 597.1,208.62 598.69,209.45 600.29,224.62 601.89,214.9 603.49,213.3 605.08,213.31 606.68,213.94 608.28,213.92 609.88,213.58 611.47,213.53 613.07,212.68 614.67,211.96 616.27,211.82 617.86,212.29 619.46,224.82 621.06,215.78 622.65,214.48 624.25,214.38 625.85,214.68 627.45,215.13 629.04,215.03 630.64,213.79 632.24,212.65 633.84,212.25 635.43,212.6 637.03,219.25 638.63,217.57 640.22,216.87 641.82,216.75 643.42,216.13 645.02,215.91 646.61,215.41 648.21,214.49 649.81,214.92 651.41,228.49 653,220.07 654.6,218.67 656.2,217.74 657.8,216.54 659.39,215.75 660.99,215.65 662.59,215.31 664.18,215.43 665.78,224.01 667.38,217.81 668.98,216.94 670.57,217.55 672.17,217.14 673.77,216.58 675.37,217.1 676.96,217.6 678.56,227.1 680.16,223.58 681.76,222.58 683.35,222.52 684.95,222.36 686.55,222.01 688.14,222.3 689.74,222.56 691.34,227.46 692.94,224.69 694.53,223.24 696.13,222.61 697.73,221.5 699.33,219.94 700.92,226.72 702.52,225.3 704.12,224.42 705.71,223.46 707.31,221.8 708.91,219.92 710.51,218.69 712.1,223.93 713.7,222.99 715.3,223.62 716.9,223.3 718.49,221.59 720.09,220.36 721.69,221.07 723.29,241.06 724.88,227.33 726.48,225.26 728.08,224.19 729.67,222.43 731.27,221.12 732.87,225.92 734.47,225.9 736.06,226.16 737.66,224.79 739.26,223.75 740.86,223.4 742.45,223.52 744.05,227.25 745.65,224.54 747.24,223.14 748.84,222.68 750.44,223.19 752.04,250.68 753.63,227.16 755.23,224.36 756.83,222.86 758.43,221.45 760.02,227.89 761.62,229.59 763.22,231.07 764.82,230.51 766.41,230.59 768.01,230.36 769.61,236.43 771.2,238.03 772.8,239.17 774.4,239.72 776,240.82 777.59,247.02 779.19,245.05 780.79,243.11 782.39,242.13 783.98,241.78 785.58,247.98 787.18,249.7 788.78,249.09 790.37,247.85 791.97,247.39 793.57,247.22 795.16,251.67 796.76,250.61 798.36,249.42 799.96,250.16 801.55,251.44 803.15,257.49 804.75,257.18 806.35,257.39 807.94,257.3 809.54,256.8 811.14,256.65 812.73,260.96 814.33,259.22 815.93,258.68 817.53,259.02 819.12,270.68 820.72,263.32 822.32,262.12 823.92,260.19 825.51,259.52 827.11,263.9 828.71,262.01 830.31,260.54 831.9,258.92 833.5,259.09" fill="none" stroke="#000" stroke-width="2.75" stroke-linejoin="round"/>
</g>
<rect x="119.5" y="39.5" width="714" height="725.9" fill="none" stroke="#000" stroke-width="1.33"/>
<line x1="119.5" y1="765.4" x2="119.5" y2="771.23" stroke="#000" stroke-width="1.33"/>
<text x="119.5" y="790.7" font-size="16.67" text-anchor="middle">0</text>
<line x1="199.37" y1="765.4" x2="199.37" y2="771.23" stroke="#000" stroke-width="1.33"/>
<text x="199.37" y="790.7" font-size="16.67" text-anchor="middle">50</text>
<line x1="279.23" y1="765.4" x2="279.23" y2="771.23" stroke="#000" stroke-width="1.33"/>
<text x="279.23" y="790.7" font-size="16.67" text-anchor="middle">100</text>
<line x1="359.1" y1="765.4" x2="359.1" y2="771.23" stroke="#000" stroke-width="1.33"/>
<text x="359.1" y="790.7" font-size="16.67" text-anchor="middle">150</text>
<line x1="438.96" y1="765.4" x2="438.96" y2="771.23" stroke="#000" stroke-width="1.33"/>
<text x="438.96" y="790.7" font-size="16.67" text-anchor="middle">200</text>
<line x1="518.83" y1="765.4" x2="518.83" y2="771.23" stroke="#000" stroke-width="1.33"/>
<text x="518.83" y="790.7" font-size="16.67" text-anchor="middle">250</text>
<line x1="598.69" y1="765.4" x2="598.69" y2="771.23" stroke="#000" stroke-width="1.33"/>
<text x="598.69" y="790.7" font-size="16.67" text-anchor="middle">300</text>
<line x1="678.56" y1="765.4" x2="678.56" y2="771.23" stroke="#000" stroke-width="1.33"/>
<text x="678.56" y="790.7" font-size="16.67" text-anchor="middle">350</text>
<line x1="758.43" y1="765.4" x2="758.43" y2="771.23" stroke="#000" stroke-width="1.33"/>
<text x="758.43" y="790.7" font-size="16.67" text-anchor="middle">400</text>
<line x1="113.67" y1="745.45" x2="119.5" y2="745.45" stroke="#000" stroke-width="1.33"/>
<text x="107.2" y="752.15" font-size="16.67" text-anchor="end">200</text>
<line x1="113.67" y1="663.56" x2="119.5" y2="663.56" stroke="#000" stroke-width="1.33"/>
<text x="107.2" y="670.26" font-size="16.67" text-anchor="end">300</text>
<line x1="113.67" y1="581.66" x2="119.5" y2="581.66" stroke="#000" stroke-width="1.33"/>
<text x="107.2" y="588.36" font-size="16.67" text-anchor="end">400</text>
<line x1="113.67" y1="499.77" x2="119.5" y2="499.77" stroke="#000" stroke-width="1.33"/>
<text x="107.2" y="506.47" font-size="16.67" text-anchor="end">500</text>
<line x1="113.67" y1="417.88" x2="119.5" y2="417.88" stroke="#000" stroke-width="1.33"/>
<text x="107.2" y="424.57" font-size="16.67" text-anchor="end">600</text>
<line x1="113.67" y1="335.98" x2="119.5" y2="335.98" stroke="#000" stroke-width="1.33"/>
<text x="107.2" y="342.68" font-size="16.67" text-anchor="end">700</text>
<line x1="113.67" y1="254.09" x2="119.5" y2="254.09" stroke="#000" stroke-width="1.33"/>
<text x="107.2" y="260.79" font-size="16.67" text-anchor="end">800</text>
<line x1="113.67" y1="172.19" x2="119.5" y2="172.19" stroke="#000" stroke-width="1.33"/>
<text x="107.2" y="178.89" font-size="16.67" text-anchor="end">900</text>
<line x1="113.67" y1="90.3" x2="119.5" y2="90.3" stroke="#000" stroke-width="1.33"/>
<text x="107.2" y="97" font-size="16.67" text-anchor="end">1000</text>
<text x="475.8" y="815.4" font-size="16.67" text-anchor="middle">Binned row index</text>
<text transform="translate(53.0 403.3) rotate(-90)" font-size="16.67" text-anchor="middle">Cloud pressure [hPa]</text>
<rect x="119.1" y="16.75" width="713.85" height="22.55" rx="2.3" ry="2.3" fill="#fff" fill-opacity="0.8" stroke="#ccc" stroke-opacity="0.8" stroke-width="1.67"/>
<line x1="124.13" y1="27.5" x2="147.27" y2="27.5" stroke="#b2b2ff" stroke-width="0.8" stroke-dasharray="3.16 1.08"/>
<text x="156.53" y="32.1" font-size="11.57">1-99%</text>
<line x1="278" y1="27.5" x2="301.14" y2="27.5" stroke="#9999ff" stroke-width="1.15" stroke-dasharray="4.54 1.55"/>
<text x="310.4" y="32.1" font-size="11.57">5-95%</text>
<line x1="431.85" y1="27.5" x2="454.99" y2="27.5" stroke="#7f7fff" stroke-width="1.5" stroke-dasharray="5.93 2.03"/>
<text x="464.25" y="32.1" font-size="11.57">10-90%</text>
<line x1="593.1" y1="27.5" x2="616.24" y2="27.5" stroke="#6666ff" stroke-width="1.9" stroke-dasharray="7.5 2.56"/>
<text x="625.5" y="32.1" font-size="11.57">25-75%</text>
<line x1="754.35" y1="27.5" x2="777.49" y2="27.5" stroke="#000" stroke-width="2.75" stroke-linecap="square"/>
<text x="786.75" y="32.1" font-size="11.57">Median</text>
</svg></body></html>
